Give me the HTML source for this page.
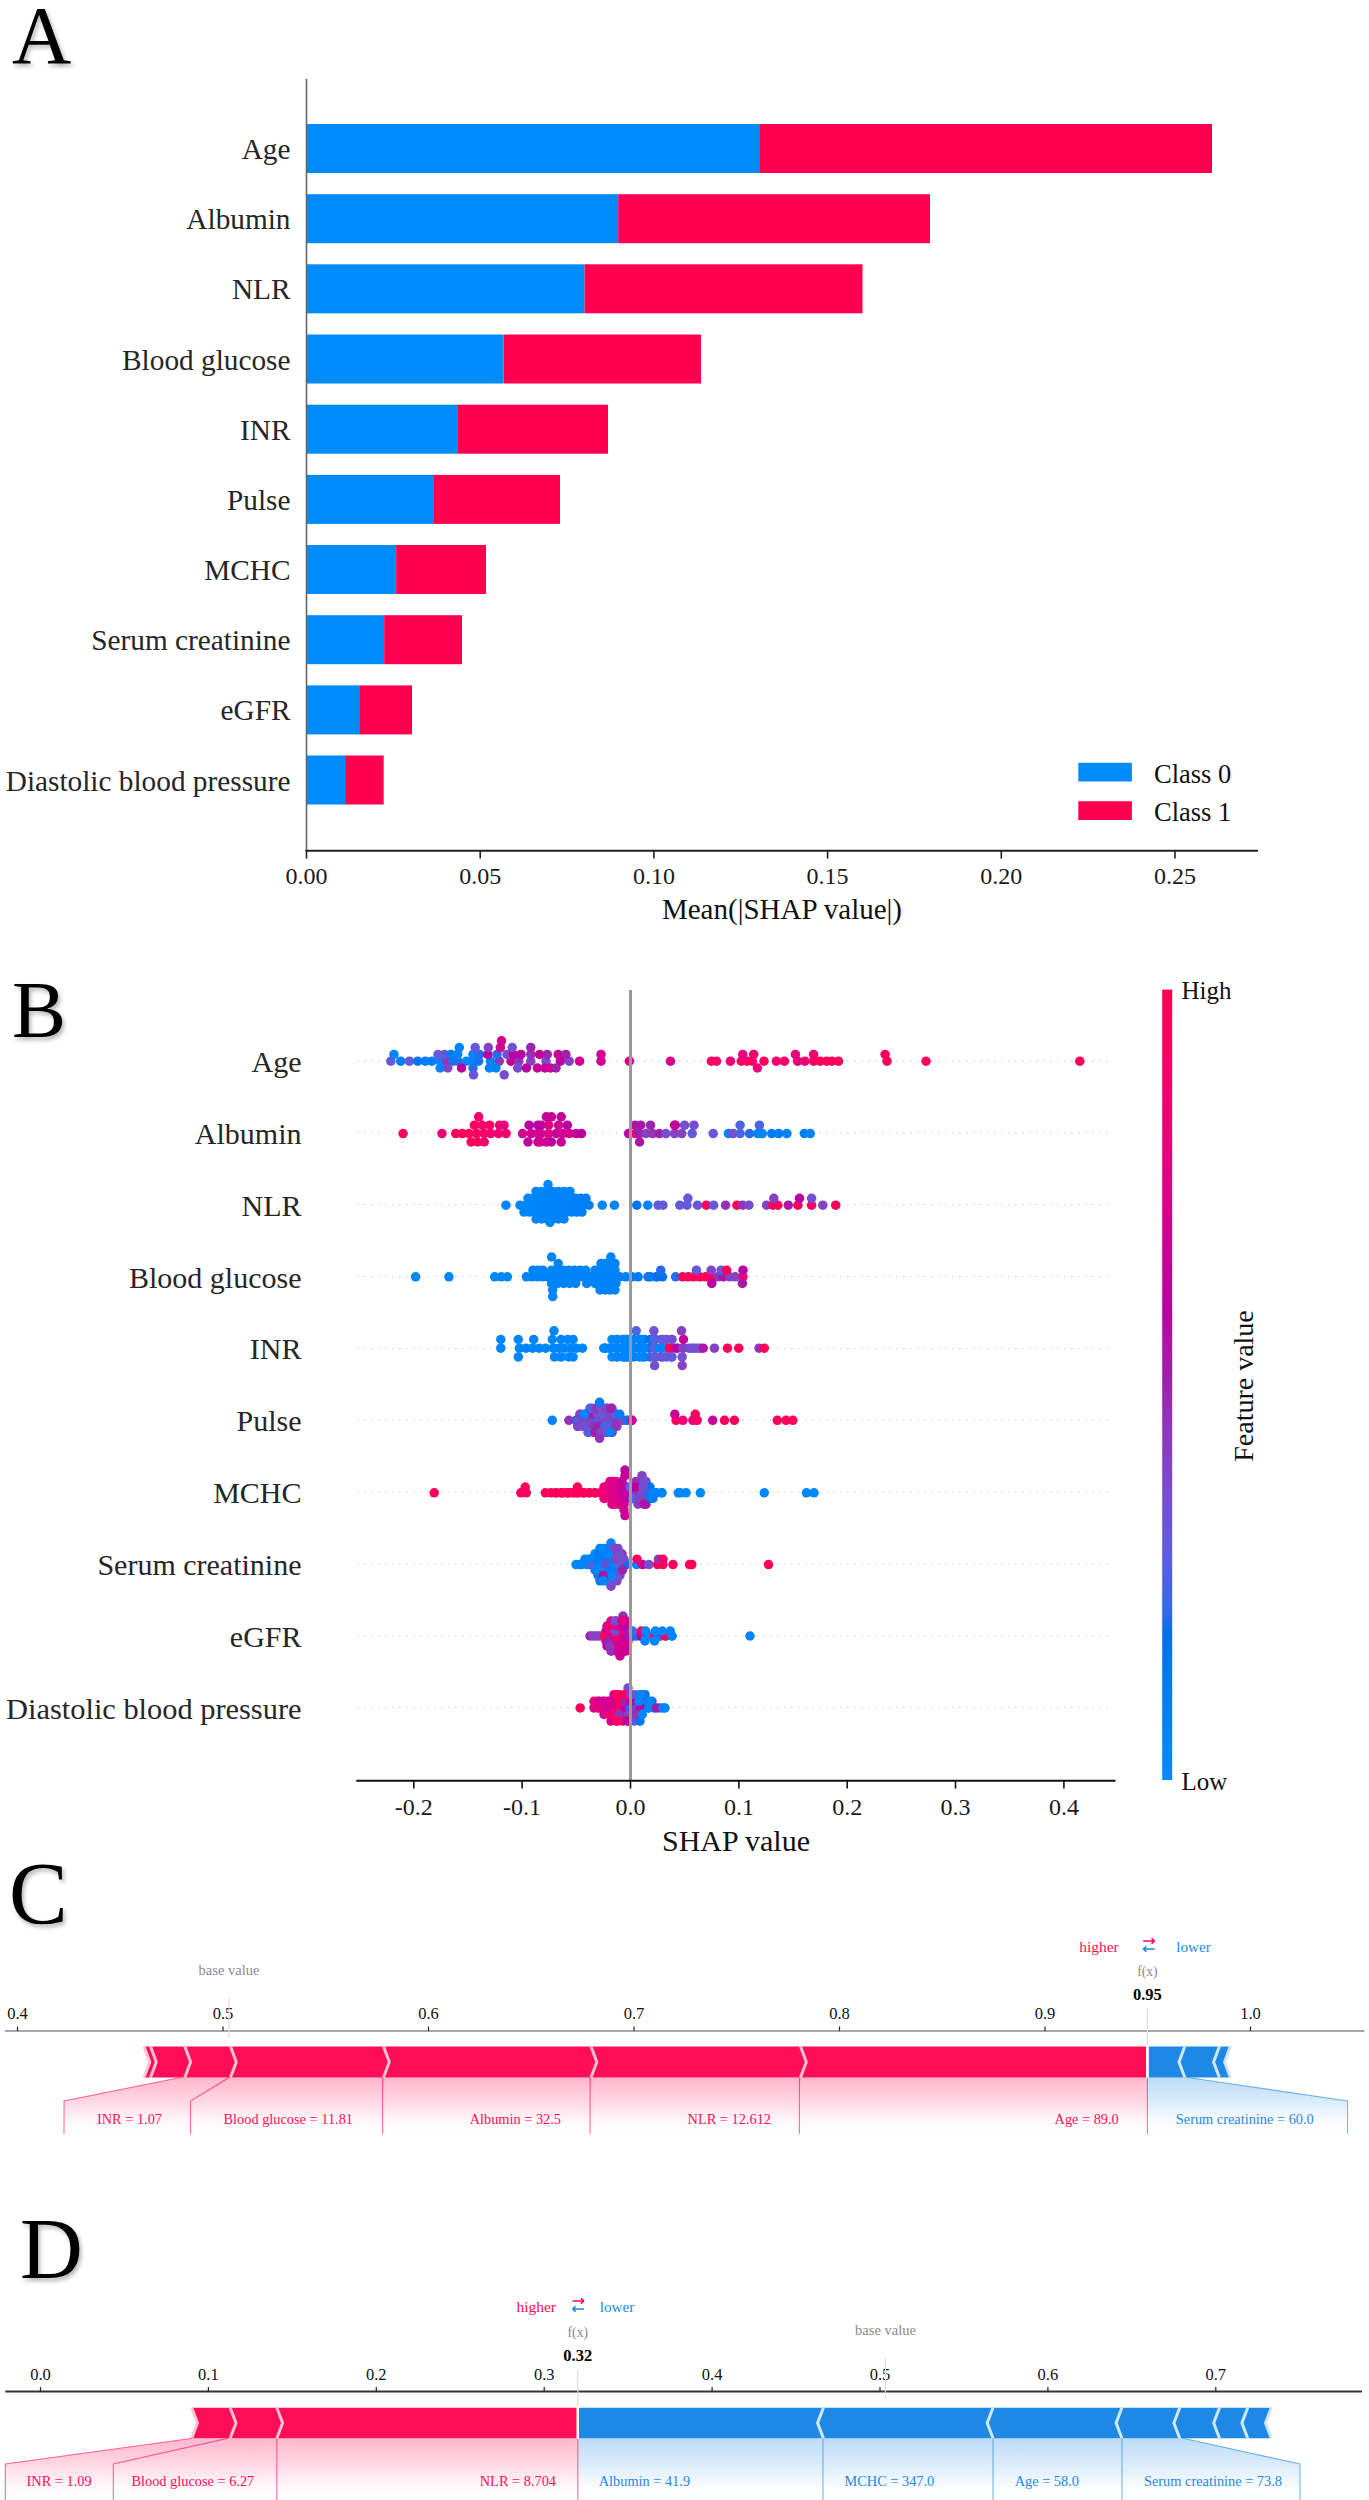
<!DOCTYPE html><html><head><meta charset="utf-8"><style>
html,body{margin:0;padding:0;background:#fff;width:1369px;height:2500px;overflow:hidden}
body{position:relative;font-family:"Liberation Serif",serif}
.pl{position:absolute;font-size:80px;line-height:1;color:#000;text-shadow:2px 3px 4px rgba(0,0,0,0.3)}
svg text{font-family:"Liberation Serif",serif}
</style></head><body>
<svg width="1369" height="2500" viewBox="0 0 1369 2500" style="position:absolute;left:0;top:0">
<defs>
<linearGradient id="cb" x1="0" y1="0" x2="0" y2="1"><stop offset="0.000" stop-color="#ff0051"/><stop offset="0.030" stop-color="#ff0058"/><stop offset="0.061" stop-color="#fd005f"/><stop offset="0.091" stop-color="#fa0065"/><stop offset="0.121" stop-color="#f6006c"/><stop offset="0.152" stop-color="#f10072"/><stop offset="0.182" stop-color="#ec0078"/><stop offset="0.212" stop-color="#e7007e"/><stop offset="0.242" stop-color="#e10084"/><stop offset="0.273" stop-color="#db008a"/><stop offset="0.303" stop-color="#d40090"/><stop offset="0.333" stop-color="#cd0095"/><stop offset="0.364" stop-color="#c5009a"/><stop offset="0.394" stop-color="#bc009f"/><stop offset="0.424" stop-color="#b30aa3"/><stop offset="0.455" stop-color="#aa17a7"/><stop offset="0.485" stop-color="#a01fab"/><stop offset="0.515" stop-color="#9829b1"/><stop offset="0.545" stop-color="#9233b9"/><stop offset="0.576" stop-color="#8a3cc0"/><stop offset="0.606" stop-color="#8244c7"/><stop offset="0.636" stop-color="#794cce"/><stop offset="0.667" stop-color="#6f52d4"/><stop offset="0.697" stop-color="#6459da"/><stop offset="0.727" stop-color="#575fdf"/><stop offset="0.758" stop-color="#4664e4"/><stop offset="0.788" stop-color="#306ae9"/><stop offset="0.818" stop-color="#006fed"/><stop offset="0.848" stop-color="#0074f0"/><stop offset="0.879" stop-color="#0079f3"/><stop offset="0.909" stop-color="#007ef6"/><stop offset="0.939" stop-color="#0082f8"/><stop offset="0.970" stop-color="#0086fa"/><stop offset="1.000" stop-color="#008bfb"/><stop offset="1.000" stop-color="#008bfb"/></linearGradient>
<linearGradient id="gr" x1="0" y1="0" x2="0" y2="1"><stop offset="0" stop-color="#ff0d57" stop-opacity="0.3"/><stop offset="0.4" stop-color="#ff0d57" stop-opacity="0.17"/><stop offset="0.8" stop-color="#ff0d57" stop-opacity="0.02"/><stop offset="1" stop-color="#ff0d57" stop-opacity="0"/></linearGradient>
<linearGradient id="gb" x1="0" y1="0" x2="0" y2="1"><stop offset="0" stop-color="#1e88e5" stop-opacity="0.3"/><stop offset="0.4" stop-color="#1e88e5" stop-opacity="0.17"/><stop offset="0.8" stop-color="#1e88e5" stop-opacity="0.02"/><stop offset="1" stop-color="#1e88e5" stop-opacity="0"/></linearGradient>
</defs>
<rect x="306.5" y="124.0" width="452.8" height="49" fill="#008bfb"/>
<rect x="759.2" y="124.0" width="452.8" height="49" fill="#ff0051"/>
<text x="290.5" y="159.0" font-size="29.3" fill="#262626" text-anchor="end">Age</text>
<rect x="306.5" y="194.2" width="311.8" height="49" fill="#008bfb"/>
<rect x="618.2" y="194.2" width="311.8" height="49" fill="#ff0051"/>
<text x="290.5" y="229.2" font-size="29.3" fill="#262626" text-anchor="end">Albumin</text>
<rect x="306.5" y="264.3" width="278.0" height="49" fill="#008bfb"/>
<rect x="584.5" y="264.3" width="278.0" height="49" fill="#ff0051"/>
<text x="290.5" y="299.3" font-size="29.3" fill="#262626" text-anchor="end">NLR</text>
<rect x="306.5" y="334.5" width="197.2" height="49" fill="#008bfb"/>
<rect x="503.8" y="334.5" width="197.2" height="49" fill="#ff0051"/>
<text x="290.5" y="369.5" font-size="29.3" fill="#262626" text-anchor="end">Blood glucose</text>
<rect x="306.5" y="404.7" width="150.8" height="49" fill="#008bfb"/>
<rect x="457.2" y="404.7" width="150.8" height="49" fill="#ff0051"/>
<text x="290.5" y="439.7" font-size="29.3" fill="#262626" text-anchor="end">INR</text>
<rect x="306.5" y="474.9" width="126.8" height="49" fill="#008bfb"/>
<rect x="433.2" y="474.9" width="126.8" height="49" fill="#ff0051"/>
<text x="290.5" y="509.9" font-size="29.3" fill="#262626" text-anchor="end">Pulse</text>
<rect x="306.5" y="545.0" width="89.8" height="49" fill="#008bfb"/>
<rect x="396.2" y="545.0" width="89.8" height="49" fill="#ff0051"/>
<text x="290.5" y="580.0" font-size="29.3" fill="#262626" text-anchor="end">MCHC</text>
<rect x="306.5" y="615.2" width="77.8" height="49" fill="#008bfb"/>
<rect x="384.2" y="615.2" width="77.8" height="49" fill="#ff0051"/>
<text x="290.5" y="650.2" font-size="29.3" fill="#262626" text-anchor="end">Serum creatinine</text>
<rect x="306.5" y="685.4" width="52.8" height="49" fill="#008bfb"/>
<rect x="359.2" y="685.4" width="52.8" height="49" fill="#ff0051"/>
<text x="290.5" y="720.4" font-size="29.3" fill="#262626" text-anchor="end">eGFR</text>
<rect x="306.5" y="755.5" width="38.6" height="49" fill="#008bfb"/>
<rect x="345.1" y="755.5" width="38.6" height="49" fill="#ff0051"/>
<text x="290.5" y="790.5" font-size="29.3" fill="#262626" text-anchor="end">Diastolic blood pressure</text>
<line x1="306.5" y1="79" x2="306.5" y2="851" stroke="#666" stroke-width="1.6"/>
<line x1="305.5" y1="850.8" x2="1258" y2="850.8" stroke="#222" stroke-width="2"/>
<line x1="306.5" y1="850" x2="306.5" y2="858.6" stroke="#222" stroke-width="1.6"/>
<text x="306.5" y="884.2" font-size="24" fill="#1a1a1a" text-anchor="middle">0.00</text>
<line x1="480.2" y1="850" x2="480.2" y2="858.6" stroke="#222" stroke-width="1.6"/>
<text x="480.2" y="884.2" font-size="24" fill="#1a1a1a" text-anchor="middle">0.05</text>
<line x1="653.9" y1="850" x2="653.9" y2="858.6" stroke="#222" stroke-width="1.6"/>
<text x="653.9" y="884.2" font-size="24" fill="#1a1a1a" text-anchor="middle">0.10</text>
<line x1="827.6" y1="850" x2="827.6" y2="858.6" stroke="#222" stroke-width="1.6"/>
<text x="827.6" y="884.2" font-size="24" fill="#1a1a1a" text-anchor="middle">0.15</text>
<line x1="1001.3" y1="850" x2="1001.3" y2="858.6" stroke="#222" stroke-width="1.6"/>
<text x="1001.3" y="884.2" font-size="24" fill="#1a1a1a" text-anchor="middle">0.20</text>
<line x1="1175.0" y1="850" x2="1175.0" y2="858.6" stroke="#222" stroke-width="1.6"/>
<text x="1175.0" y="884.2" font-size="24" fill="#1a1a1a" text-anchor="middle">0.25</text>
<text x="782" y="919" font-size="29" fill="#111" text-anchor="middle">Mean(|SHAP value|)</text>
<rect x="1078.3" y="762.8" width="53.6" height="18.7" fill="#008bfb"/>
<rect x="1078.3" y="801.2" width="53.6" height="18.8" fill="#ff0051"/>
<text x="1154" y="782.7" font-size="26.5" fill="#111">Class 0</text>
<text x="1154" y="821" font-size="26.5" fill="#111">Class 1</text>
<line x1="357" y1="1061.0" x2="1112" y2="1061.0" stroke="#ccc" stroke-width="1" stroke-dasharray="1.6 5.4"/>
<text x="301.5" y="1072.0" font-size="30" fill="#262626" text-anchor="end">Age</text>
<line x1="357" y1="1132.8" x2="1112" y2="1132.8" stroke="#ccc" stroke-width="1" stroke-dasharray="1.6 5.4"/>
<text x="301.5" y="1143.8" font-size="30" fill="#262626" text-anchor="end">Albumin</text>
<line x1="357" y1="1204.7" x2="1112" y2="1204.7" stroke="#ccc" stroke-width="1" stroke-dasharray="1.6 5.4"/>
<text x="301.5" y="1215.7" font-size="30" fill="#262626" text-anchor="end">NLR</text>
<line x1="357" y1="1276.5" x2="1112" y2="1276.5" stroke="#ccc" stroke-width="1" stroke-dasharray="1.6 5.4"/>
<text x="301.5" y="1287.5" font-size="30" fill="#262626" text-anchor="end">Blood glucose</text>
<line x1="357" y1="1348.4" x2="1112" y2="1348.4" stroke="#ccc" stroke-width="1" stroke-dasharray="1.6 5.4"/>
<text x="301.5" y="1359.4" font-size="30" fill="#262626" text-anchor="end">INR</text>
<line x1="357" y1="1420.2" x2="1112" y2="1420.2" stroke="#ccc" stroke-width="1" stroke-dasharray="1.6 5.4"/>
<text x="301.5" y="1431.2" font-size="30" fill="#262626" text-anchor="end">Pulse</text>
<line x1="357" y1="1492.1" x2="1112" y2="1492.1" stroke="#ccc" stroke-width="1" stroke-dasharray="1.6 5.4"/>
<text x="301.5" y="1503.1" font-size="30" fill="#262626" text-anchor="end">MCHC</text>
<line x1="357" y1="1563.9" x2="1112" y2="1563.9" stroke="#ccc" stroke-width="1" stroke-dasharray="1.6 5.4"/>
<text x="301.5" y="1574.9" font-size="30" fill="#262626" text-anchor="end">Serum creatinine</text>
<line x1="357" y1="1635.8" x2="1112" y2="1635.8" stroke="#ccc" stroke-width="1" stroke-dasharray="1.6 5.4"/>
<text x="301.5" y="1646.8" font-size="30" fill="#262626" text-anchor="end">eGFR</text>
<line x1="357" y1="1707.7" x2="1112" y2="1707.7" stroke="#ccc" stroke-width="1" stroke-dasharray="1.6 5.4"/>
<text x="301.5" y="1718.7" font-size="30.4" fill="#262626" text-anchor="end">Diastolic blood pressure</text>
<circle cx="390.8" cy="1061.2" r="4.75" fill="#6459da"/>
<circle cx="400.7" cy="1061.2" r="4.75" fill="#007cf5"/>
<circle cx="409.4" cy="1061.2" r="4.75" fill="#6459da"/>
<circle cx="417.7" cy="1061.2" r="4.75" fill="#0074f0"/>
<circle cx="425.3" cy="1061.2" r="4.75" fill="#007cf5"/>
<circle cx="431.9" cy="1061.2" r="4.75" fill="#007cf5"/>
<circle cx="440.1" cy="1061.2" r="4.75" fill="#0084f9"/>
<circle cx="446.7" cy="1061.2" r="4.75" fill="#9233b9"/>
<circle cx="453.3" cy="1061.2" r="4.75" fill="#007cf5"/>
<circle cx="457.7" cy="1061.2" r="4.75" fill="#266cea"/>
<circle cx="466.4" cy="1061.2" r="4.75" fill="#0084f9"/>
<circle cx="473.0" cy="1061.2" r="4.75" fill="#0084f9"/>
<circle cx="478.5" cy="1061.2" r="4.75" fill="#007cf5"/>
<circle cx="490.5" cy="1061.2" r="4.75" fill="#0084f9"/>
<circle cx="499.3" cy="1061.2" r="4.75" fill="#9233b9"/>
<circle cx="511.0" cy="1061.2" r="4.75" fill="#c70098"/>
<circle cx="518.8" cy="1061.2" r="4.75" fill="#9233b9"/>
<circle cx="530.8" cy="1061.2" r="4.75" fill="#8542c5"/>
<circle cx="546.0" cy="1061.2" r="4.75" fill="#764ed0"/>
<circle cx="560.4" cy="1061.2" r="4.75" fill="#b900a0"/>
<circle cx="569.2" cy="1061.2" r="4.75" fill="#8542c5"/>
<circle cx="579.6" cy="1061.2" r="4.75" fill="#d40090"/>
<circle cx="601.0" cy="1061.2" r="4.75" fill="#d40090"/>
<circle cx="629.4" cy="1061.2" r="4.75" fill="#df0086"/>
<circle cx="670.5" cy="1061.2" r="4.75" fill="#df0086"/>
<circle cx="711.4" cy="1061.2" r="4.75" fill="#f80067"/>
<circle cx="716.5" cy="1061.2" r="4.75" fill="#f80067"/>
<circle cx="730.4" cy="1061.2" r="4.75" fill="#e9007c"/>
<circle cx="741.3" cy="1061.2" r="4.75" fill="#fe005c"/>
<circle cx="747.2" cy="1061.2" r="4.75" fill="#f80067"/>
<circle cx="752.3" cy="1061.2" r="4.75" fill="#fe005c"/>
<circle cx="764.0" cy="1061.2" r="4.75" fill="#fe005c"/>
<circle cx="776.4" cy="1061.2" r="4.75" fill="#f10072"/>
<circle cx="784.4" cy="1061.2" r="4.75" fill="#f80067"/>
<circle cx="797.6" cy="1061.2" r="4.75" fill="#e9007c"/>
<circle cx="804.9" cy="1061.2" r="4.75" fill="#f10072"/>
<circle cx="813.6" cy="1061.2" r="4.75" fill="#f80067"/>
<circle cx="820.2" cy="1061.2" r="4.75" fill="#fe005c"/>
<circle cx="826.8" cy="1061.2" r="4.75" fill="#fe005c"/>
<circle cx="831.9" cy="1061.2" r="4.75" fill="#fe005c"/>
<circle cx="838.5" cy="1061.2" r="4.75" fill="#fe005c"/>
<circle cx="887.0" cy="1061.2" r="4.75" fill="#fe005c"/>
<circle cx="926.0" cy="1061.2" r="4.75" fill="#fe005c"/>
<circle cx="1079.8" cy="1061.2" r="4.75" fill="#fe005c"/>
<circle cx="394.0" cy="1054.4" r="4.75" fill="#0084f9"/>
<circle cx="438.0" cy="1054.4" r="4.75" fill="#6459da"/>
<circle cx="444.5" cy="1054.4" r="4.75" fill="#6459da"/>
<circle cx="451.0" cy="1054.4" r="4.75" fill="#007cf5"/>
<circle cx="457.7" cy="1054.4" r="4.75" fill="#0084f9"/>
<circle cx="473.0" cy="1054.4" r="4.75" fill="#0084f9"/>
<circle cx="479.6" cy="1054.4" r="4.75" fill="#266cea"/>
<circle cx="487.8" cy="1054.4" r="4.75" fill="#b900a0"/>
<circle cx="497.0" cy="1054.4" r="4.75" fill="#266cea"/>
<circle cx="507.0" cy="1054.4" r="4.75" fill="#764ed0"/>
<circle cx="513.3" cy="1054.4" r="4.75" fill="#b900a0"/>
<circle cx="521.0" cy="1054.4" r="4.75" fill="#b900a0"/>
<circle cx="530.8" cy="1054.4" r="4.75" fill="#9233b9"/>
<circle cx="539.6" cy="1054.4" r="4.75" fill="#c70098"/>
<circle cx="547.3" cy="1054.4" r="4.75" fill="#9d22ac"/>
<circle cx="558.2" cy="1054.4" r="4.75" fill="#c70098"/>
<circle cx="565.9" cy="1054.4" r="4.75" fill="#9d22ac"/>
<circle cx="601.0" cy="1054.4" r="4.75" fill="#d40090"/>
<circle cx="742.8" cy="1054.4" r="4.75" fill="#e9007c"/>
<circle cx="753.7" cy="1054.4" r="4.75" fill="#f10072"/>
<circle cx="795.4" cy="1054.4" r="4.75" fill="#e9007c"/>
<circle cx="813.6" cy="1054.4" r="4.75" fill="#f10072"/>
<circle cx="885.1" cy="1054.4" r="4.75" fill="#fe005c"/>
<circle cx="459.3" cy="1047.6" r="4.75" fill="#0084f9"/>
<circle cx="475.2" cy="1047.6" r="4.75" fill="#6459da"/>
<circle cx="488.3" cy="1047.6" r="4.75" fill="#8542c5"/>
<circle cx="500.4" cy="1047.6" r="4.75" fill="#d40090"/>
<circle cx="512.2" cy="1047.6" r="4.75" fill="#764ed0"/>
<circle cx="530.8" cy="1047.6" r="4.75" fill="#9d22ac"/>
<circle cx="501.5" cy="1040.8" r="4.75" fill="#d40090"/>
<circle cx="440.1" cy="1068.0" r="4.75" fill="#0084f9"/>
<circle cx="447.8" cy="1068.0" r="4.75" fill="#8542c5"/>
<circle cx="461.5" cy="1068.0" r="4.75" fill="#b900a0"/>
<circle cx="473.0" cy="1068.0" r="4.75" fill="#266cea"/>
<circle cx="489.4" cy="1068.0" r="4.75" fill="#0084f9"/>
<circle cx="496.0" cy="1068.0" r="4.75" fill="#0084f9"/>
<circle cx="517.7" cy="1068.0" r="4.75" fill="#764ed0"/>
<circle cx="526.4" cy="1068.0" r="4.75" fill="#b900a0"/>
<circle cx="537.4" cy="1068.0" r="4.75" fill="#c70098"/>
<circle cx="545.0" cy="1068.0" r="4.75" fill="#c70098"/>
<circle cx="550.5" cy="1068.0" r="4.75" fill="#d40090"/>
<circle cx="556.0" cy="1068.0" r="4.75" fill="#9d22ac"/>
<circle cx="757.4" cy="1068.0" r="4.75" fill="#e9007c"/>
<circle cx="473.5" cy="1074.8" r="4.75" fill="#6459da"/>
<circle cx="504.2" cy="1074.8" r="4.75" fill="#764ed0"/>
<circle cx="403.1" cy="1133.6" r="4.75" fill="#fe005c"/>
<circle cx="442.0" cy="1133.6" r="4.75" fill="#f10072"/>
<circle cx="455.7" cy="1133.6" r="4.75" fill="#fe005c"/>
<circle cx="462.3" cy="1133.6" r="4.75" fill="#fe005c"/>
<circle cx="468.9" cy="1133.6" r="4.75" fill="#fe005c"/>
<circle cx="476.6" cy="1133.6" r="4.75" fill="#fe005c"/>
<circle cx="484.2" cy="1133.6" r="4.75" fill="#f80067"/>
<circle cx="490.8" cy="1133.6" r="4.75" fill="#f10072"/>
<circle cx="498.5" cy="1133.6" r="4.75" fill="#f10072"/>
<circle cx="506.1" cy="1133.6" r="4.75" fill="#f10072"/>
<circle cx="522.6" cy="1133.6" r="4.75" fill="#d40090"/>
<circle cx="531.3" cy="1133.6" r="4.75" fill="#d40090"/>
<circle cx="537.9" cy="1133.6" r="4.75" fill="#d40090"/>
<circle cx="541.0" cy="1133.6" r="4.75" fill="#d40090"/>
<circle cx="548.6" cy="1133.6" r="4.75" fill="#df0086"/>
<circle cx="556.3" cy="1133.6" r="4.75" fill="#c70098"/>
<circle cx="562.9" cy="1133.6" r="4.75" fill="#d40090"/>
<circle cx="569.4" cy="1133.6" r="4.75" fill="#d40090"/>
<circle cx="576.0" cy="1133.6" r="4.75" fill="#c70098"/>
<circle cx="581.5" cy="1133.6" r="4.75" fill="#b900a0"/>
<circle cx="628.6" cy="1133.6" r="4.75" fill="#b900a0"/>
<circle cx="635.2" cy="1133.6" r="4.75" fill="#e9007c"/>
<circle cx="639.6" cy="1133.6" r="4.75" fill="#9d22ac"/>
<circle cx="646.1" cy="1133.6" r="4.75" fill="#8542c5"/>
<circle cx="652.7" cy="1133.6" r="4.75" fill="#9233b9"/>
<circle cx="659.3" cy="1133.6" r="4.75" fill="#9d22ac"/>
<circle cx="665.9" cy="1133.6" r="4.75" fill="#764ed0"/>
<circle cx="674.6" cy="1133.6" r="4.75" fill="#8542c5"/>
<circle cx="681.7" cy="1133.6" r="4.75" fill="#8542c5"/>
<circle cx="692.2" cy="1133.6" r="4.75" fill="#6459da"/>
<circle cx="713.2" cy="1133.6" r="4.75" fill="#6459da"/>
<circle cx="728.4" cy="1133.6" r="4.75" fill="#0084f9"/>
<circle cx="733.1" cy="1133.6" r="4.75" fill="#764ed0"/>
<circle cx="740.1" cy="1133.6" r="4.75" fill="#4c63e3"/>
<circle cx="749.5" cy="1133.6" r="4.75" fill="#266cea"/>
<circle cx="757.7" cy="1133.6" r="4.75" fill="#0084f9"/>
<circle cx="762.3" cy="1133.6" r="4.75" fill="#0084f9"/>
<circle cx="771.7" cy="1133.6" r="4.75" fill="#007cf5"/>
<circle cx="778.7" cy="1133.6" r="4.75" fill="#007cf5"/>
<circle cx="786.9" cy="1133.6" r="4.75" fill="#0084f9"/>
<circle cx="804.4" cy="1133.6" r="4.75" fill="#007cf5"/>
<circle cx="810.3" cy="1133.6" r="4.75" fill="#0084f9"/>
<circle cx="474.4" cy="1125.2" r="4.75" fill="#fe005c"/>
<circle cx="482.0" cy="1125.2" r="4.75" fill="#f80067"/>
<circle cx="489.7" cy="1125.2" r="4.75" fill="#fe005c"/>
<circle cx="499.6" cy="1125.2" r="4.75" fill="#f10072"/>
<circle cx="504.0" cy="1125.2" r="4.75" fill="#e9007c"/>
<circle cx="529.1" cy="1125.2" r="4.75" fill="#b900a0"/>
<circle cx="537.9" cy="1125.2" r="4.75" fill="#b900a0"/>
<circle cx="541.0" cy="1125.2" r="4.75" fill="#b900a0"/>
<circle cx="548.6" cy="1125.2" r="4.75" fill="#df0086"/>
<circle cx="558.5" cy="1125.2" r="4.75" fill="#d40090"/>
<circle cx="567.3" cy="1125.2" r="4.75" fill="#b900a0"/>
<circle cx="635.2" cy="1125.2" r="4.75" fill="#aa17a7"/>
<circle cx="640.7" cy="1125.2" r="4.75" fill="#aa17a7"/>
<circle cx="650.5" cy="1125.2" r="4.75" fill="#9d22ac"/>
<circle cx="674.6" cy="1125.2" r="4.75" fill="#b900a0"/>
<circle cx="675.3" cy="1125.2" r="4.75" fill="#c70098"/>
<circle cx="684.6" cy="1125.2" r="4.75" fill="#764ed0"/>
<circle cx="694.0" cy="1125.2" r="4.75" fill="#764ed0"/>
<circle cx="740.1" cy="1125.2" r="4.75" fill="#4c63e3"/>
<circle cx="759.4" cy="1125.2" r="4.75" fill="#4c63e3"/>
<circle cx="478.7" cy="1116.8" r="4.75" fill="#f80067"/>
<circle cx="546.4" cy="1116.8" r="4.75" fill="#c70098"/>
<circle cx="551.4" cy="1116.8" r="4.75" fill="#c70098"/>
<circle cx="561.2" cy="1116.8" r="4.75" fill="#c70098"/>
<circle cx="471.1" cy="1142.0" r="4.75" fill="#fe005c"/>
<circle cx="477.7" cy="1142.0" r="4.75" fill="#fe005c"/>
<circle cx="484.2" cy="1142.0" r="4.75" fill="#f80067"/>
<circle cx="528.0" cy="1142.0" r="4.75" fill="#b900a0"/>
<circle cx="537.9" cy="1142.0" r="4.75" fill="#c70098"/>
<circle cx="539.9" cy="1142.0" r="4.75" fill="#d40090"/>
<circle cx="546.4" cy="1142.0" r="4.75" fill="#d40090"/>
<circle cx="551.4" cy="1142.0" r="4.75" fill="#b900a0"/>
<circle cx="561.2" cy="1142.0" r="4.75" fill="#c70098"/>
<circle cx="639.6" cy="1142.0" r="4.75" fill="#aa17a7"/>
<circle cx="505.9" cy="1205.2" r="4.75" fill="#0086fa"/>
<circle cx="520.0" cy="1205.2" r="4.75" fill="#0086fa"/>
<circle cx="525.3" cy="1205.2" r="4.75" fill="#0086fa"/>
<circle cx="530.6" cy="1205.2" r="4.75" fill="#0085f9"/>
<circle cx="535.9" cy="1205.2" r="4.75" fill="#0085f9"/>
<circle cx="541.2" cy="1205.2" r="4.75" fill="#0085f9"/>
<circle cx="546.5" cy="1205.2" r="4.75" fill="#0084f9"/>
<circle cx="551.8" cy="1205.2" r="4.75" fill="#0084f9"/>
<circle cx="557.2" cy="1205.2" r="4.75" fill="#0082f8"/>
<circle cx="562.5" cy="1205.2" r="4.75" fill="#0082f8"/>
<circle cx="567.8" cy="1205.2" r="4.75" fill="#0082f8"/>
<circle cx="573.1" cy="1205.2" r="4.75" fill="#0081f7"/>
<circle cx="578.4" cy="1205.2" r="4.75" fill="#0081f7"/>
<circle cx="583.7" cy="1205.2" r="4.75" fill="#007ff7"/>
<circle cx="589.0" cy="1205.2" r="4.75" fill="#007ff7"/>
<circle cx="528.0" cy="1198.3" r="4.75" fill="#0086fa"/>
<circle cx="533.3" cy="1198.3" r="4.75" fill="#0086fa"/>
<circle cx="538.5" cy="1198.3" r="4.75" fill="#0085f9"/>
<circle cx="543.8" cy="1198.3" r="4.75" fill="#0085f9"/>
<circle cx="549.1" cy="1198.3" r="4.75" fill="#0084f9"/>
<circle cx="554.4" cy="1198.3" r="4.75" fill="#0084f9"/>
<circle cx="559.6" cy="1198.3" r="4.75" fill="#0082f8"/>
<circle cx="564.9" cy="1198.3" r="4.75" fill="#0082f8"/>
<circle cx="570.2" cy="1198.3" r="4.75" fill="#0081f7"/>
<circle cx="575.5" cy="1198.3" r="4.75" fill="#0081f7"/>
<circle cx="580.7" cy="1198.3" r="4.75" fill="#0081f7"/>
<circle cx="586.0" cy="1198.3" r="4.75" fill="#007ff7"/>
<circle cx="536.0" cy="1191.4" r="4.75" fill="#0086fa"/>
<circle cx="541.7" cy="1191.4" r="4.75" fill="#0086fa"/>
<circle cx="547.3" cy="1191.4" r="4.75" fill="#0085f9"/>
<circle cx="553.0" cy="1191.4" r="4.75" fill="#0085f9"/>
<circle cx="558.7" cy="1191.4" r="4.75" fill="#0085f9"/>
<circle cx="564.3" cy="1191.4" r="4.75" fill="#0084f9"/>
<circle cx="570.0" cy="1191.4" r="4.75" fill="#0084f9"/>
<circle cx="548.0" cy="1184.5" r="4.75" fill="#0086fa"/>
<circle cx="524.0" cy="1212.1" r="4.75" fill="#0086fa"/>
<circle cx="529.3" cy="1212.1" r="4.75" fill="#0086fa"/>
<circle cx="534.5" cy="1212.1" r="4.75" fill="#0085f9"/>
<circle cx="539.8" cy="1212.1" r="4.75" fill="#0085f9"/>
<circle cx="545.1" cy="1212.1" r="4.75" fill="#0084f9"/>
<circle cx="550.4" cy="1212.1" r="4.75" fill="#0084f9"/>
<circle cx="555.6" cy="1212.1" r="4.75" fill="#0082f8"/>
<circle cx="560.9" cy="1212.1" r="4.75" fill="#0082f8"/>
<circle cx="566.2" cy="1212.1" r="4.75" fill="#0081f7"/>
<circle cx="571.5" cy="1212.1" r="4.75" fill="#0081f7"/>
<circle cx="576.7" cy="1212.1" r="4.75" fill="#0081f7"/>
<circle cx="582.0" cy="1212.1" r="4.75" fill="#007ff7"/>
<circle cx="536.0" cy="1219.0" r="4.75" fill="#0086fa"/>
<circle cx="541.6" cy="1219.0" r="4.75" fill="#0086fa"/>
<circle cx="547.2" cy="1219.0" r="4.75" fill="#0085f9"/>
<circle cx="552.8" cy="1219.0" r="4.75" fill="#0085f9"/>
<circle cx="558.4" cy="1219.0" r="4.75" fill="#0084f9"/>
<circle cx="564.0" cy="1219.0" r="4.75" fill="#0084f9"/>
<circle cx="550.0" cy="1222.5" r="4.75" fill="#0086fa"/>
<circle cx="602.3" cy="1205.2" r="4.75" fill="#0084f9"/>
<circle cx="614.4" cy="1205.2" r="4.75" fill="#0084f9"/>
<circle cx="636.8" cy="1205.2" r="4.75" fill="#0074f0"/>
<circle cx="647.7" cy="1205.2" r="4.75" fill="#0084f9"/>
<circle cx="658.1" cy="1205.2" r="4.75" fill="#6459da"/>
<circle cx="662.9" cy="1205.2" r="4.75" fill="#6459da"/>
<circle cx="679.8" cy="1205.2" r="4.75" fill="#6459da"/>
<circle cx="687.0" cy="1205.2" r="4.75" fill="#6459da"/>
<circle cx="697.5" cy="1205.2" r="4.75" fill="#6459da"/>
<circle cx="706.3" cy="1205.2" r="4.75" fill="#fe005c"/>
<circle cx="713.6" cy="1205.2" r="4.75" fill="#6459da"/>
<circle cx="725.6" cy="1205.2" r="4.75" fill="#9233b9"/>
<circle cx="736.9" cy="1205.2" r="4.75" fill="#fe005c"/>
<circle cx="742.5" cy="1205.2" r="4.75" fill="#9233b9"/>
<circle cx="748.9" cy="1205.2" r="4.75" fill="#764ed0"/>
<circle cx="766.6" cy="1205.2" r="4.75" fill="#8542c5"/>
<circle cx="773.0" cy="1205.2" r="4.75" fill="#fe005c"/>
<circle cx="777.8" cy="1205.2" r="4.75" fill="#fe005c"/>
<circle cx="788.3" cy="1205.2" r="4.75" fill="#aa17a7"/>
<circle cx="797.9" cy="1205.2" r="4.75" fill="#fe005c"/>
<circle cx="811.6" cy="1205.2" r="4.75" fill="#f80067"/>
<circle cx="822.8" cy="1205.2" r="4.75" fill="#8542c5"/>
<circle cx="835.7" cy="1205.2" r="4.75" fill="#fe005c"/>
<circle cx="687.9" cy="1198.3" r="4.75" fill="#6459da"/>
<circle cx="773.8" cy="1198.3" r="4.75" fill="#8542c5"/>
<circle cx="799.5" cy="1198.3" r="4.75" fill="#b900a0"/>
<circle cx="811.6" cy="1198.3" r="4.75" fill="#764ed0"/>
<circle cx="415.6" cy="1276.8" r="4.75" fill="#0088fa"/>
<circle cx="448.9" cy="1276.8" r="4.75" fill="#0088fa"/>
<circle cx="494.7" cy="1276.8" r="4.75" fill="#0088fa"/>
<circle cx="501.2" cy="1276.8" r="4.75" fill="#0088fa"/>
<circle cx="507.4" cy="1276.8" r="4.75" fill="#0088fa"/>
<circle cx="526.4" cy="1276.8" r="4.75" fill="#0085f9"/>
<circle cx="531.8" cy="1276.8" r="4.75" fill="#0085f9"/>
<circle cx="537.2" cy="1276.8" r="4.75" fill="#0085f9"/>
<circle cx="542.5" cy="1276.8" r="4.75" fill="#0085f9"/>
<circle cx="547.9" cy="1276.8" r="4.75" fill="#0084f9"/>
<circle cx="553.3" cy="1276.8" r="4.75" fill="#0084f9"/>
<circle cx="558.7" cy="1276.8" r="4.75" fill="#0084f9"/>
<circle cx="564.1" cy="1276.8" r="4.75" fill="#0084f9"/>
<circle cx="569.5" cy="1276.8" r="4.75" fill="#0084f9"/>
<circle cx="574.9" cy="1276.8" r="4.75" fill="#0084f9"/>
<circle cx="580.2" cy="1276.8" r="4.75" fill="#0082f8"/>
<circle cx="585.6" cy="1276.8" r="4.75" fill="#0082f8"/>
<circle cx="591.0" cy="1276.8" r="4.75" fill="#0082f8"/>
<circle cx="533.0" cy="1270.2" r="4.75" fill="#0085f9"/>
<circle cx="538.0" cy="1270.2" r="4.75" fill="#0085f9"/>
<circle cx="543.0" cy="1270.2" r="4.75" fill="#0084f9"/>
<circle cx="551.6" cy="1270.2" r="4.75" fill="#0085f9"/>
<circle cx="557.3" cy="1270.2" r="4.75" fill="#0085f9"/>
<circle cx="563.0" cy="1270.2" r="4.75" fill="#0084f9"/>
<circle cx="568.6" cy="1270.2" r="4.75" fill="#0084f9"/>
<circle cx="574.3" cy="1270.2" r="4.75" fill="#0082f8"/>
<circle cx="580.0" cy="1270.2" r="4.75" fill="#0082f8"/>
<circle cx="585.6" cy="1270.2" r="4.75" fill="#0084f9"/>
<circle cx="558.2" cy="1263.6" r="4.75" fill="#0084f9"/>
<circle cx="551.6" cy="1257.0" r="4.75" fill="#0084f9"/>
<circle cx="551.6" cy="1283.4" r="4.75" fill="#0085f9"/>
<circle cx="557.6" cy="1283.4" r="4.75" fill="#0085f9"/>
<circle cx="563.7" cy="1283.4" r="4.75" fill="#0084f9"/>
<circle cx="569.7" cy="1283.4" r="4.75" fill="#0084f9"/>
<circle cx="575.7" cy="1283.4" r="4.75" fill="#0082f8"/>
<circle cx="586.7" cy="1283.4" r="4.75" fill="#0084f9"/>
<circle cx="552.7" cy="1290.0" r="4.75" fill="#0084f9"/>
<circle cx="552.7" cy="1296.6" r="4.75" fill="#0084f9"/>
<circle cx="593.3" cy="1276.8" r="4.75" fill="#0084f9"/>
<circle cx="599.0" cy="1276.8" r="4.75" fill="#0084f9"/>
<circle cx="604.8" cy="1276.8" r="4.75" fill="#0084f9"/>
<circle cx="610.5" cy="1276.8" r="4.75" fill="#0082f8"/>
<circle cx="616.3" cy="1276.8" r="4.75" fill="#0082f8"/>
<circle cx="619.6" cy="1276.8" r="4.75" fill="#007ff7"/>
<circle cx="625.8" cy="1276.8" r="4.75" fill="#007ef6"/>
<circle cx="632.0" cy="1276.8" r="4.75" fill="#007bf4"/>
<circle cx="638.2" cy="1276.8" r="4.75" fill="#0079f3"/>
<circle cx="595.0" cy="1270.2" r="4.75" fill="#0084f9"/>
<circle cx="600.0" cy="1270.2" r="4.75" fill="#0084f9"/>
<circle cx="605.0" cy="1270.2" r="4.75" fill="#0084f9"/>
<circle cx="610.0" cy="1270.2" r="4.75" fill="#0082f8"/>
<circle cx="615.0" cy="1270.2" r="4.75" fill="#0082f8"/>
<circle cx="601.0" cy="1263.6" r="4.75" fill="#0084f9"/>
<circle cx="605.7" cy="1263.6" r="4.75" fill="#0084f9"/>
<circle cx="610.3" cy="1263.6" r="4.75" fill="#0082f8"/>
<circle cx="615.0" cy="1263.6" r="4.75" fill="#0082f8"/>
<circle cx="610.8" cy="1257.0" r="4.75" fill="#0084f9"/>
<circle cx="595.0" cy="1283.4" r="4.75" fill="#0084f9"/>
<circle cx="600.2" cy="1283.4" r="4.75" fill="#0084f9"/>
<circle cx="605.5" cy="1283.4" r="4.75" fill="#0084f9"/>
<circle cx="610.8" cy="1283.4" r="4.75" fill="#0082f8"/>
<circle cx="616.0" cy="1283.4" r="4.75" fill="#0082f8"/>
<circle cx="600.0" cy="1290.0" r="4.75" fill="#0084f9"/>
<circle cx="605.0" cy="1290.0" r="4.75" fill="#0084f9"/>
<circle cx="610.0" cy="1290.0" r="4.75" fill="#0082f8"/>
<circle cx="615.0" cy="1290.0" r="4.75" fill="#0082f8"/>
<circle cx="648.0" cy="1276.8" r="4.75" fill="#266cea"/>
<circle cx="656.8" cy="1276.8" r="4.75" fill="#266cea"/>
<circle cx="650.4" cy="1276.8" r="4.75" fill="#007cf5"/>
<circle cx="656.4" cy="1276.8" r="4.75" fill="#0074f0"/>
<circle cx="662.5" cy="1276.8" r="4.75" fill="#0074f0"/>
<circle cx="675.6" cy="1276.8" r="4.75" fill="#266cea"/>
<circle cx="682.7" cy="1276.8" r="4.75" fill="#fe005c"/>
<circle cx="688.2" cy="1276.8" r="4.75" fill="#fe005c"/>
<circle cx="693.7" cy="1276.8" r="4.75" fill="#fe005c"/>
<circle cx="699.7" cy="1276.8" r="4.75" fill="#fe005c"/>
<circle cx="705.7" cy="1276.8" r="4.75" fill="#fe005c"/>
<circle cx="711.2" cy="1276.8" r="4.75" fill="#fe005c"/>
<circle cx="717.8" cy="1276.8" r="4.75" fill="#9233b9"/>
<circle cx="723.3" cy="1276.8" r="4.75" fill="#aa17a7"/>
<circle cx="729.8" cy="1276.8" r="4.75" fill="#8542c5"/>
<circle cx="735.3" cy="1276.8" r="4.75" fill="#8542c5"/>
<circle cx="743.0" cy="1276.8" r="4.75" fill="#f10072"/>
<circle cx="660.8" cy="1270.2" r="4.75" fill="#266cea"/>
<circle cx="696.4" cy="1270.2" r="4.75" fill="#6459da"/>
<circle cx="711.2" cy="1270.2" r="4.75" fill="#8542c5"/>
<circle cx="721.1" cy="1270.2" r="4.75" fill="#6459da"/>
<circle cx="726.6" cy="1270.2" r="4.75" fill="#fe005c"/>
<circle cx="743.0" cy="1270.2" r="4.75" fill="#b900a0"/>
<circle cx="711.8" cy="1283.4" r="4.75" fill="#b900a0"/>
<circle cx="742.4" cy="1283.4" r="4.75" fill="#aa17a7"/>
<circle cx="605.0" cy="1348.2" r="4.75" fill="#0081f7"/>
<circle cx="610.6" cy="1348.2" r="4.75" fill="#008bfb"/>
<circle cx="616.2" cy="1348.2" r="4.75" fill="#007ef6"/>
<circle cx="621.8" cy="1348.2" r="4.75" fill="#0084f9"/>
<circle cx="627.4" cy="1348.2" r="4.75" fill="#0082f8"/>
<circle cx="632.9" cy="1348.2" r="4.75" fill="#0084f9"/>
<circle cx="638.5" cy="1348.2" r="4.75" fill="#007cf5"/>
<circle cx="644.1" cy="1348.2" r="4.75" fill="#0084f9"/>
<circle cx="649.7" cy="1348.2" r="4.75" fill="#186deb"/>
<circle cx="655.3" cy="1348.2" r="4.75" fill="#6459da"/>
<circle cx="660.9" cy="1348.2" r="4.75" fill="#575fdf"/>
<circle cx="666.5" cy="1348.2" r="4.75" fill="#6459da"/>
<circle cx="672.1" cy="1348.2" r="4.75" fill="#7d49cc"/>
<circle cx="677.6" cy="1348.2" r="4.75" fill="#7f47c9"/>
<circle cx="683.2" cy="1348.2" r="4.75" fill="#8244c7"/>
<circle cx="688.8" cy="1348.2" r="4.75" fill="#6f52d4"/>
<circle cx="694.4" cy="1348.2" r="4.75" fill="#7350d2"/>
<circle cx="700.0" cy="1348.2" r="4.75" fill="#8244c7"/>
<circle cx="612.0" cy="1339.5" r="4.75" fill="#008bfb"/>
<circle cx="617.5" cy="1339.5" r="4.75" fill="#0081f7"/>
<circle cx="622.9" cy="1339.5" r="4.75" fill="#0084f9"/>
<circle cx="628.4" cy="1339.5" r="4.75" fill="#0082f8"/>
<circle cx="633.8" cy="1339.5" r="4.75" fill="#0086fa"/>
<circle cx="639.3" cy="1339.5" r="4.75" fill="#0086fa"/>
<circle cx="644.7" cy="1339.5" r="4.75" fill="#0081f7"/>
<circle cx="650.2" cy="1339.5" r="4.75" fill="#006fed"/>
<circle cx="655.6" cy="1339.5" r="4.75" fill="#5b5ddd"/>
<circle cx="661.1" cy="1339.5" r="4.75" fill="#605bdc"/>
<circle cx="666.5" cy="1339.5" r="4.75" fill="#7d49cc"/>
<circle cx="672.0" cy="1339.5" r="4.75" fill="#6f52d4"/>
<circle cx="612.0" cy="1356.9" r="4.75" fill="#008bfb"/>
<circle cx="617.5" cy="1356.9" r="4.75" fill="#008bfb"/>
<circle cx="622.9" cy="1356.9" r="4.75" fill="#0081f7"/>
<circle cx="628.4" cy="1356.9" r="4.75" fill="#007ef6"/>
<circle cx="633.8" cy="1356.9" r="4.75" fill="#0081f7"/>
<circle cx="639.3" cy="1356.9" r="4.75" fill="#0086fa"/>
<circle cx="644.7" cy="1356.9" r="4.75" fill="#0081f7"/>
<circle cx="650.2" cy="1356.9" r="4.75" fill="#306ae9"/>
<circle cx="655.6" cy="1356.9" r="4.75" fill="#6459da"/>
<circle cx="661.1" cy="1356.9" r="4.75" fill="#6c54d6"/>
<circle cx="666.5" cy="1356.9" r="4.75" fill="#5b5ddd"/>
<circle cx="672.0" cy="1356.9" r="4.75" fill="#7d49cc"/>
<circle cx="500.8" cy="1348.2" r="4.75" fill="#0086fa"/>
<circle cx="519.4" cy="1348.2" r="4.75" fill="#0086fa"/>
<circle cx="526.0" cy="1348.2" r="4.75" fill="#0086fa"/>
<circle cx="532.6" cy="1348.2" r="4.75" fill="#0086fa"/>
<circle cx="539.2" cy="1348.2" r="4.75" fill="#0086fa"/>
<circle cx="545.7" cy="1348.2" r="4.75" fill="#0086fa"/>
<circle cx="553.4" cy="1348.2" r="4.75" fill="#0086fa"/>
<circle cx="558.9" cy="1348.2" r="4.75" fill="#0086fa"/>
<circle cx="564.4" cy="1348.2" r="4.75" fill="#0086fa"/>
<circle cx="570.9" cy="1348.2" r="4.75" fill="#0086fa"/>
<circle cx="576.4" cy="1348.2" r="4.75" fill="#0086fa"/>
<circle cx="582.4" cy="1348.2" r="4.75" fill="#0086fa"/>
<circle cx="603.8" cy="1348.2" r="4.75" fill="#0086fa"/>
<circle cx="609.3" cy="1348.2" r="4.75" fill="#0086fa"/>
<circle cx="617.0" cy="1348.2" r="4.75" fill="#0086fa"/>
<circle cx="624.6" cy="1348.2" r="4.75" fill="#0086fa"/>
<circle cx="605.3" cy="1348.2" r="4.75" fill="#0086fa"/>
<circle cx="617.1" cy="1348.2" r="4.75" fill="#0086fa"/>
<circle cx="626.3" cy="1348.2" r="4.75" fill="#0086fa"/>
<circle cx="634.2" cy="1348.2" r="4.75" fill="#0086fa"/>
<circle cx="643.4" cy="1348.2" r="4.75" fill="#0086fa"/>
<circle cx="500.8" cy="1339.5" r="4.75" fill="#0086fa"/>
<circle cx="518.3" cy="1339.5" r="4.75" fill="#0086fa"/>
<circle cx="533.7" cy="1339.5" r="4.75" fill="#0086fa"/>
<circle cx="552.3" cy="1339.5" r="4.75" fill="#0086fa"/>
<circle cx="561.1" cy="1339.5" r="4.75" fill="#0086fa"/>
<circle cx="567.7" cy="1339.5" r="4.75" fill="#0086fa"/>
<circle cx="573.1" cy="1339.5" r="4.75" fill="#0086fa"/>
<circle cx="617.0" cy="1339.5" r="4.75" fill="#0086fa"/>
<circle cx="624.6" cy="1339.5" r="4.75" fill="#0086fa"/>
<circle cx="626.3" cy="1339.5" r="4.75" fill="#0086fa"/>
<circle cx="640.8" cy="1339.5" r="4.75" fill="#0086fa"/>
<circle cx="554.0" cy="1330.8" r="4.75" fill="#0086fa"/>
<circle cx="518.3" cy="1356.9" r="4.75" fill="#0086fa"/>
<circle cx="554.5" cy="1356.9" r="4.75" fill="#0086fa"/>
<circle cx="561.1" cy="1356.9" r="4.75" fill="#0086fa"/>
<circle cx="568.7" cy="1356.9" r="4.75" fill="#0086fa"/>
<circle cx="573.1" cy="1356.9" r="4.75" fill="#0086fa"/>
<circle cx="617.0" cy="1356.9" r="4.75" fill="#0086fa"/>
<circle cx="624.6" cy="1356.9" r="4.75" fill="#0086fa"/>
<circle cx="626.3" cy="1356.9" r="4.75" fill="#0086fa"/>
<circle cx="642.1" cy="1356.9" r="4.75" fill="#0086fa"/>
<circle cx="653.9" cy="1348.2" r="4.75" fill="#4c63e3"/>
<circle cx="660.5" cy="1348.2" r="4.75" fill="#0084f9"/>
<circle cx="669.7" cy="1348.2" r="4.75" fill="#fe005c"/>
<circle cx="676.3" cy="1348.2" r="4.75" fill="#b900a0"/>
<circle cx="682.8" cy="1348.2" r="4.75" fill="#8542c5"/>
<circle cx="692.0" cy="1348.2" r="4.75" fill="#764ed0"/>
<circle cx="697.3" cy="1348.2" r="4.75" fill="#764ed0"/>
<circle cx="703.2" cy="1348.2" r="4.75" fill="#aa17a7"/>
<circle cx="714.4" cy="1348.2" r="4.75" fill="#8542c5"/>
<circle cx="727.5" cy="1348.2" r="4.75" fill="#fe005c"/>
<circle cx="738.7" cy="1348.2" r="4.75" fill="#fe005c"/>
<circle cx="759.1" cy="1348.2" r="4.75" fill="#9233b9"/>
<circle cx="764.3" cy="1348.2" r="4.75" fill="#fe005c"/>
<circle cx="653.9" cy="1339.5" r="4.75" fill="#4c63e3"/>
<circle cx="663.1" cy="1339.5" r="4.75" fill="#6459da"/>
<circle cx="671.7" cy="1339.5" r="4.75" fill="#764ed0"/>
<circle cx="683.5" cy="1339.5" r="4.75" fill="#c70098"/>
<circle cx="636.2" cy="1330.8" r="4.75" fill="#4c63e3"/>
<circle cx="653.9" cy="1330.8" r="4.75" fill="#764ed0"/>
<circle cx="681.5" cy="1330.8" r="4.75" fill="#8542c5"/>
<circle cx="655.2" cy="1356.9" r="4.75" fill="#6459da"/>
<circle cx="663.1" cy="1356.9" r="4.75" fill="#6459da"/>
<circle cx="671.0" cy="1356.9" r="4.75" fill="#6459da"/>
<circle cx="682.2" cy="1356.9" r="4.75" fill="#764ed0"/>
<circle cx="654.6" cy="1365.6" r="4.75" fill="#764ed0"/>
<circle cx="682.2" cy="1365.6" r="4.75" fill="#8542c5"/>
<circle cx="576.0" cy="1420.3" r="4.75" fill="#0074f0"/>
<circle cx="581.6" cy="1420.3" r="4.75" fill="#0074f0"/>
<circle cx="587.2" cy="1420.3" r="4.75" fill="#764ed0"/>
<circle cx="592.8" cy="1420.3" r="4.75" fill="#764ed0"/>
<circle cx="598.4" cy="1420.3" r="4.75" fill="#6459da"/>
<circle cx="604.0" cy="1420.3" r="4.75" fill="#9233b9"/>
<circle cx="609.6" cy="1420.3" r="4.75" fill="#4c63e3"/>
<circle cx="615.2" cy="1420.3" r="4.75" fill="#0074f0"/>
<circle cx="620.8" cy="1420.3" r="4.75" fill="#764ed0"/>
<circle cx="626.4" cy="1420.3" r="4.75" fill="#6459da"/>
<circle cx="632.0" cy="1420.3" r="4.75" fill="#9233b9"/>
<circle cx="580.0" cy="1414.3" r="4.75" fill="#764ed0"/>
<circle cx="585.3" cy="1414.3" r="4.75" fill="#6459da"/>
<circle cx="590.6" cy="1414.3" r="4.75" fill="#0074f0"/>
<circle cx="595.9" cy="1414.3" r="4.75" fill="#0084f9"/>
<circle cx="601.1" cy="1414.3" r="4.75" fill="#9d22ac"/>
<circle cx="606.4" cy="1414.3" r="4.75" fill="#6459da"/>
<circle cx="611.7" cy="1414.3" r="4.75" fill="#764ed0"/>
<circle cx="617.0" cy="1414.3" r="4.75" fill="#4c63e3"/>
<circle cx="590.0" cy="1408.3" r="4.75" fill="#764ed0"/>
<circle cx="595.5" cy="1408.3" r="4.75" fill="#764ed0"/>
<circle cx="601.0" cy="1408.3" r="4.75" fill="#0074f0"/>
<circle cx="606.5" cy="1408.3" r="4.75" fill="#764ed0"/>
<circle cx="612.0" cy="1408.3" r="4.75" fill="#4c63e3"/>
<circle cx="578.0" cy="1426.3" r="4.75" fill="#8542c5"/>
<circle cx="583.6" cy="1426.3" r="4.75" fill="#764ed0"/>
<circle cx="589.1" cy="1426.3" r="4.75" fill="#9d22ac"/>
<circle cx="594.7" cy="1426.3" r="4.75" fill="#764ed0"/>
<circle cx="600.3" cy="1426.3" r="4.75" fill="#9233b9"/>
<circle cx="605.9" cy="1426.3" r="4.75" fill="#764ed0"/>
<circle cx="611.4" cy="1426.3" r="4.75" fill="#8542c5"/>
<circle cx="617.0" cy="1426.3" r="4.75" fill="#764ed0"/>
<circle cx="588.0" cy="1432.3" r="4.75" fill="#8542c5"/>
<circle cx="594.0" cy="1432.3" r="4.75" fill="#8542c5"/>
<circle cx="600.0" cy="1432.3" r="4.75" fill="#0084f9"/>
<circle cx="606.0" cy="1432.3" r="4.75" fill="#8542c5"/>
<circle cx="612.0" cy="1432.3" r="4.75" fill="#4c63e3"/>
<circle cx="552.3" cy="1420.3" r="4.75" fill="#0084f9"/>
<circle cx="568.9" cy="1420.3" r="4.75" fill="#9233b9"/>
<circle cx="578.6" cy="1420.3" r="4.75" fill="#4c63e3"/>
<circle cx="584.1" cy="1420.3" r="4.75" fill="#8542c5"/>
<circle cx="589.6" cy="1420.3" r="4.75" fill="#8542c5"/>
<circle cx="595.1" cy="1420.3" r="4.75" fill="#4c63e3"/>
<circle cx="600.6" cy="1420.3" r="4.75" fill="#6459da"/>
<circle cx="606.0" cy="1420.3" r="4.75" fill="#8542c5"/>
<circle cx="611.5" cy="1420.3" r="4.75" fill="#764ed0"/>
<circle cx="617.0" cy="1420.3" r="4.75" fill="#9233b9"/>
<circle cx="622.5" cy="1420.3" r="4.75" fill="#8542c5"/>
<circle cx="628.0" cy="1420.3" r="4.75" fill="#007cf5"/>
<circle cx="580.0" cy="1414.3" r="4.75" fill="#8542c5"/>
<circle cx="585.9" cy="1414.3" r="4.75" fill="#007cf5"/>
<circle cx="591.8" cy="1414.3" r="4.75" fill="#9d22ac"/>
<circle cx="597.7" cy="1414.3" r="4.75" fill="#764ed0"/>
<circle cx="603.6" cy="1414.3" r="4.75" fill="#6459da"/>
<circle cx="609.5" cy="1414.3" r="4.75" fill="#8542c5"/>
<circle cx="615.4" cy="1414.3" r="4.75" fill="#4c63e3"/>
<circle cx="591.7" cy="1408.3" r="4.75" fill="#4c63e3"/>
<circle cx="596.5" cy="1408.3" r="4.75" fill="#9233b9"/>
<circle cx="601.4" cy="1408.3" r="4.75" fill="#764ed0"/>
<circle cx="606.2" cy="1408.3" r="4.75" fill="#8542c5"/>
<circle cx="611.0" cy="1408.3" r="4.75" fill="#9d22ac"/>
<circle cx="577.7" cy="1426.3" r="4.75" fill="#8542c5"/>
<circle cx="583.1" cy="1426.3" r="4.75" fill="#764ed0"/>
<circle cx="588.5" cy="1426.3" r="4.75" fill="#764ed0"/>
<circle cx="593.9" cy="1426.3" r="4.75" fill="#9233b9"/>
<circle cx="599.2" cy="1426.3" r="4.75" fill="#9d22ac"/>
<circle cx="604.6" cy="1426.3" r="4.75" fill="#4c63e3"/>
<circle cx="610.0" cy="1426.3" r="4.75" fill="#4c63e3"/>
<circle cx="615.4" cy="1426.3" r="4.75" fill="#9233b9"/>
<circle cx="589.0" cy="1432.3" r="4.75" fill="#4c63e3"/>
<circle cx="594.7" cy="1432.3" r="4.75" fill="#9d22ac"/>
<circle cx="600.5" cy="1432.3" r="4.75" fill="#8542c5"/>
<circle cx="606.2" cy="1432.3" r="4.75" fill="#764ed0"/>
<circle cx="611.9" cy="1432.3" r="4.75" fill="#9233b9"/>
<circle cx="631.6" cy="1420.3" r="4.75" fill="#d40090"/>
<circle cx="619.8" cy="1414.3" r="4.75" fill="#007cf5"/>
<circle cx="599.6" cy="1402.3" r="4.75" fill="#007cf5"/>
<circle cx="599.6" cy="1438.3" r="4.75" fill="#9233b9"/>
<circle cx="610.1" cy="1432.3" r="4.75" fill="#0084f9"/>
<circle cx="584.0" cy="1414.3" r="4.75" fill="#0084f9"/>
<circle cx="676.1" cy="1420.3" r="4.75" fill="#fe005c"/>
<circle cx="682.9" cy="1420.3" r="4.75" fill="#f10072"/>
<circle cx="692.8" cy="1420.3" r="4.75" fill="#e9007c"/>
<circle cx="697.2" cy="1420.3" r="4.75" fill="#f80067"/>
<circle cx="712.7" cy="1420.3" r="4.75" fill="#c70098"/>
<circle cx="724.5" cy="1420.3" r="4.75" fill="#fe005c"/>
<circle cx="734.4" cy="1420.3" r="4.75" fill="#fe005c"/>
<circle cx="777.3" cy="1420.3" r="4.75" fill="#fe005c"/>
<circle cx="786.0" cy="1420.3" r="4.75" fill="#fe005c"/>
<circle cx="792.8" cy="1420.3" r="4.75" fill="#fe005c"/>
<circle cx="674.8" cy="1414.3" r="4.75" fill="#c70098"/>
<circle cx="695.3" cy="1414.3" r="4.75" fill="#fe005c"/>
<circle cx="625.0" cy="1475.7" r="4.75" fill="#c70098"/>
<circle cx="642.0" cy="1475.7" r="4.75" fill="#8542c5"/>
<circle cx="636.0" cy="1481.4" r="4.75" fill="#9233b9"/>
<circle cx="646.0" cy="1481.4" r="4.75" fill="#8542c5"/>
<circle cx="624.0" cy="1509.9" r="4.75" fill="#d40090"/>
<circle cx="638.0" cy="1504.2" r="4.75" fill="#8542c5"/>
<circle cx="646.0" cy="1504.2" r="4.75" fill="#aa17a7"/>
<circle cx="625.0" cy="1470.0" r="4.75" fill="#b900a0"/>
<circle cx="625.0" cy="1515.6" r="4.75" fill="#c70098"/>
<circle cx="556.0" cy="1492.8" r="4.75" fill="#ff0058"/>
<circle cx="561.6" cy="1492.8" r="4.75" fill="#ff0056"/>
<circle cx="567.2" cy="1492.8" r="4.75" fill="#ff0051"/>
<circle cx="572.7" cy="1492.8" r="4.75" fill="#fb0063"/>
<circle cx="578.3" cy="1492.8" r="4.75" fill="#f6006c"/>
<circle cx="583.9" cy="1492.8" r="4.75" fill="#f6006c"/>
<circle cx="589.5" cy="1492.8" r="4.75" fill="#f6006c"/>
<circle cx="595.1" cy="1492.8" r="4.75" fill="#fa0065"/>
<circle cx="600.6" cy="1492.8" r="4.75" fill="#fa0065"/>
<circle cx="606.2" cy="1492.8" r="4.75" fill="#e10084"/>
<circle cx="611.8" cy="1492.8" r="4.75" fill="#db008a"/>
<circle cx="617.4" cy="1492.8" r="4.75" fill="#d9008c"/>
<circle cx="622.9" cy="1492.8" r="4.75" fill="#b900a0"/>
<circle cx="628.5" cy="1492.8" r="4.75" fill="#c5009a"/>
<circle cx="634.1" cy="1492.8" r="4.75" fill="#9d22ac"/>
<circle cx="639.7" cy="1492.8" r="4.75" fill="#883fc2"/>
<circle cx="645.3" cy="1492.8" r="4.75" fill="#7f47c9"/>
<circle cx="650.8" cy="1492.8" r="4.75" fill="#266cea"/>
<circle cx="656.4" cy="1492.8" r="4.75" fill="#0081f7"/>
<circle cx="662.0" cy="1492.8" r="4.75" fill="#0084f9"/>
<circle cx="604.0" cy="1487.1" r="4.75" fill="#ec0078"/>
<circle cx="609.8" cy="1487.1" r="4.75" fill="#f00074"/>
<circle cx="615.5" cy="1487.1" r="4.75" fill="#c70098"/>
<circle cx="621.2" cy="1487.1" r="4.75" fill="#ca0097"/>
<circle cx="627.0" cy="1487.1" r="4.75" fill="#c70098"/>
<circle cx="632.8" cy="1487.1" r="4.75" fill="#a31daa"/>
<circle cx="638.5" cy="1487.1" r="4.75" fill="#962db3"/>
<circle cx="644.2" cy="1487.1" r="4.75" fill="#605bdc"/>
<circle cx="650.0" cy="1487.1" r="4.75" fill="#0074f0"/>
<circle cx="604.0" cy="1498.5" r="4.75" fill="#f10072"/>
<circle cx="609.8" cy="1498.5" r="4.75" fill="#ec0078"/>
<circle cx="615.5" cy="1498.5" r="4.75" fill="#cf0093"/>
<circle cx="621.2" cy="1498.5" r="4.75" fill="#d9008c"/>
<circle cx="627.0" cy="1498.5" r="4.75" fill="#b00fa5"/>
<circle cx="632.8" cy="1498.5" r="4.75" fill="#bc009f"/>
<circle cx="638.5" cy="1498.5" r="4.75" fill="#a71aa9"/>
<circle cx="644.2" cy="1498.5" r="4.75" fill="#7d49cc"/>
<circle cx="650.0" cy="1498.5" r="4.75" fill="#0076f1"/>
<circle cx="610.0" cy="1481.4" r="4.75" fill="#e10084"/>
<circle cx="616.0" cy="1481.4" r="4.75" fill="#dd0088"/>
<circle cx="622.0" cy="1481.4" r="4.75" fill="#c2009c"/>
<circle cx="612.0" cy="1504.2" r="4.75" fill="#d9008c"/>
<circle cx="618.0" cy="1504.2" r="4.75" fill="#db008a"/>
<circle cx="624.0" cy="1504.2" r="4.75" fill="#cf0093"/>
<circle cx="434.2" cy="1492.8" r="4.75" fill="#fe005c"/>
<circle cx="520.8" cy="1492.8" r="4.75" fill="#f80067"/>
<circle cx="526.3" cy="1492.8" r="4.75" fill="#f80067"/>
<circle cx="545.4" cy="1492.8" r="4.75" fill="#fe005c"/>
<circle cx="550.9" cy="1492.8" r="4.75" fill="#fe005c"/>
<circle cx="561.3" cy="1492.8" r="4.75" fill="#f80067"/>
<circle cx="567.9" cy="1492.8" r="4.75" fill="#f80067"/>
<circle cx="525.2" cy="1487.1" r="4.75" fill="#fe005c"/>
<circle cx="556.0" cy="1492.8" r="4.75" fill="#fe005c"/>
<circle cx="562.3" cy="1492.8" r="4.75" fill="#fe005c"/>
<circle cx="568.7" cy="1492.8" r="4.75" fill="#fe005c"/>
<circle cx="575.0" cy="1492.8" r="4.75" fill="#fe005c"/>
<circle cx="577.5" cy="1492.8" r="4.75" fill="#fe005c"/>
<circle cx="583.0" cy="1492.8" r="4.75" fill="#fe005c"/>
<circle cx="589.0" cy="1492.8" r="4.75" fill="#fe005c"/>
<circle cx="595.0" cy="1492.8" r="4.75" fill="#fe005c"/>
<circle cx="603.8" cy="1492.8" r="4.75" fill="#f10072"/>
<circle cx="610.8" cy="1492.8" r="4.75" fill="#df0086"/>
<circle cx="617.0" cy="1492.8" r="4.75" fill="#d40090"/>
<circle cx="623.0" cy="1492.8" r="4.75" fill="#c70098"/>
<circle cx="629.2" cy="1492.8" r="4.75" fill="#c70098"/>
<circle cx="635.4" cy="1492.8" r="4.75" fill="#9233b9"/>
<circle cx="641.5" cy="1492.8" r="4.75" fill="#764ed0"/>
<circle cx="647.6" cy="1492.8" r="4.75" fill="#266cea"/>
<circle cx="653.8" cy="1492.8" r="4.75" fill="#0084f9"/>
<circle cx="661.7" cy="1492.8" r="4.75" fill="#0084f9"/>
<circle cx="678.3" cy="1492.8" r="4.75" fill="#0084f9"/>
<circle cx="577.5" cy="1487.1" r="4.75" fill="#fe005c"/>
<circle cx="605.6" cy="1487.1" r="4.75" fill="#e9007c"/>
<circle cx="612.6" cy="1487.1" r="4.75" fill="#df0086"/>
<circle cx="621.3" cy="1487.1" r="4.75" fill="#c70098"/>
<circle cx="630.1" cy="1487.1" r="4.75" fill="#6459da"/>
<circle cx="635.4" cy="1487.1" r="4.75" fill="#b900a0"/>
<circle cx="643.3" cy="1487.1" r="4.75" fill="#764ed0"/>
<circle cx="612.6" cy="1481.4" r="4.75" fill="#df0086"/>
<circle cx="644.1" cy="1481.4" r="4.75" fill="#764ed0"/>
<circle cx="604.7" cy="1498.5" r="4.75" fill="#e9007c"/>
<circle cx="612.6" cy="1498.5" r="4.75" fill="#df0086"/>
<circle cx="625.0" cy="1498.5" r="4.75" fill="#c70098"/>
<circle cx="632.7" cy="1498.5" r="4.75" fill="#6459da"/>
<circle cx="640.6" cy="1498.5" r="4.75" fill="#8542c5"/>
<circle cx="652.9" cy="1498.5" r="4.75" fill="#007cf5"/>
<circle cx="614.3" cy="1504.2" r="4.75" fill="#df0086"/>
<circle cx="644.1" cy="1504.2" r="4.75" fill="#aa17a7"/>
<circle cx="680.5" cy="1492.8" r="4.75" fill="#0088fa"/>
<circle cx="686.1" cy="1492.8" r="4.75" fill="#0088fa"/>
<circle cx="700.4" cy="1492.8" r="4.75" fill="#0088fa"/>
<circle cx="764.3" cy="1492.8" r="4.75" fill="#0088fa"/>
<circle cx="806.5" cy="1492.8" r="4.75" fill="#0088fa"/>
<circle cx="814.0" cy="1492.8" r="4.75" fill="#0088fa"/>
<circle cx="611.0" cy="1543.0" r="4.75" fill="#0084f9"/>
<circle cx="611.0" cy="1586.2" r="4.75" fill="#8542c5"/>
<circle cx="576.0" cy="1564.6" r="4.75" fill="#008bfb"/>
<circle cx="581.3" cy="1564.6" r="4.75" fill="#0079f3"/>
<circle cx="586.7" cy="1564.6" r="4.75" fill="#008bfb"/>
<circle cx="592.0" cy="1564.6" r="4.75" fill="#006fed"/>
<circle cx="597.3" cy="1564.6" r="4.75" fill="#008bfb"/>
<circle cx="602.7" cy="1564.6" r="4.75" fill="#0073ef"/>
<circle cx="608.0" cy="1564.6" r="4.75" fill="#4066e6"/>
<circle cx="613.3" cy="1564.6" r="4.75" fill="#266cea"/>
<circle cx="618.7" cy="1564.6" r="4.75" fill="#7d49cc"/>
<circle cx="624.0" cy="1564.6" r="4.75" fill="#9829b1"/>
<circle cx="585.0" cy="1559.2" r="4.75" fill="#0086fa"/>
<circle cx="590.6" cy="1559.2" r="4.75" fill="#0076f1"/>
<circle cx="596.1" cy="1559.2" r="4.75" fill="#0082f8"/>
<circle cx="601.7" cy="1559.2" r="4.75" fill="#0074f0"/>
<circle cx="607.3" cy="1559.2" r="4.75" fill="#0073ef"/>
<circle cx="612.9" cy="1559.2" r="4.75" fill="#794cce"/>
<circle cx="618.4" cy="1559.2" r="4.75" fill="#5261e1"/>
<circle cx="624.0" cy="1559.2" r="4.75" fill="#764ed0"/>
<circle cx="595.0" cy="1553.8" r="4.75" fill="#008bfb"/>
<circle cx="600.4" cy="1553.8" r="4.75" fill="#007ef6"/>
<circle cx="605.8" cy="1553.8" r="4.75" fill="#0082f8"/>
<circle cx="611.2" cy="1553.8" r="4.75" fill="#5261e1"/>
<circle cx="616.6" cy="1553.8" r="4.75" fill="#8244c7"/>
<circle cx="622.0" cy="1553.8" r="4.75" fill="#9430b6"/>
<circle cx="600.0" cy="1548.4" r="4.75" fill="#0081f7"/>
<circle cx="606.0" cy="1548.4" r="4.75" fill="#266cea"/>
<circle cx="612.0" cy="1548.4" r="4.75" fill="#4c63e3"/>
<circle cx="618.0" cy="1548.4" r="4.75" fill="#764ed0"/>
<circle cx="595.0" cy="1570.0" r="4.75" fill="#0082f8"/>
<circle cx="600.4" cy="1570.0" r="4.75" fill="#0086fa"/>
<circle cx="605.8" cy="1570.0" r="4.75" fill="#007ff7"/>
<circle cx="611.2" cy="1570.0" r="4.75" fill="#6c54d6"/>
<circle cx="616.6" cy="1570.0" r="4.75" fill="#306ae9"/>
<circle cx="622.0" cy="1570.0" r="4.75" fill="#6c54d6"/>
<circle cx="598.0" cy="1575.4" r="4.75" fill="#007bf4"/>
<circle cx="603.5" cy="1575.4" r="4.75" fill="#0076f1"/>
<circle cx="609.0" cy="1575.4" r="4.75" fill="#3968e7"/>
<circle cx="614.5" cy="1575.4" r="4.75" fill="#4664e4"/>
<circle cx="620.0" cy="1575.4" r="4.75" fill="#7d49cc"/>
<circle cx="600.0" cy="1580.8" r="4.75" fill="#007bf4"/>
<circle cx="605.7" cy="1580.8" r="4.75" fill="#0088fa"/>
<circle cx="611.3" cy="1580.8" r="4.75" fill="#5261e1"/>
<circle cx="617.0" cy="1580.8" r="4.75" fill="#794cce"/>
<circle cx="580.1" cy="1564.6" r="4.75" fill="#0084f9"/>
<circle cx="590.2" cy="1564.6" r="4.75" fill="#4c63e3"/>
<circle cx="598.9" cy="1564.6" r="4.75" fill="#0084f9"/>
<circle cx="606.8" cy="1564.6" r="4.75" fill="#8542c5"/>
<circle cx="613.8" cy="1564.6" r="4.75" fill="#0084f9"/>
<circle cx="620.8" cy="1564.6" r="4.75" fill="#6459da"/>
<circle cx="626.1" cy="1564.6" r="4.75" fill="#0074f0"/>
<circle cx="636.6" cy="1564.6" r="4.75" fill="#0084f9"/>
<circle cx="642.7" cy="1564.6" r="4.75" fill="#c70098"/>
<circle cx="648.9" cy="1564.6" r="4.75" fill="#764ed0"/>
<circle cx="657.6" cy="1564.6" r="4.75" fill="#fe005c"/>
<circle cx="662.9" cy="1564.6" r="4.75" fill="#fe005c"/>
<circle cx="673.0" cy="1564.6" r="4.75" fill="#fe005c"/>
<circle cx="689.6" cy="1564.6" r="4.75" fill="#fe005c"/>
<circle cx="691.8" cy="1564.6" r="4.75" fill="#fe005c"/>
<circle cx="768.5" cy="1564.6" r="4.75" fill="#fe005c"/>
<circle cx="588.8" cy="1559.2" r="4.75" fill="#0084f9"/>
<circle cx="598.0" cy="1559.2" r="4.75" fill="#007cf5"/>
<circle cx="609.4" cy="1559.2" r="4.75" fill="#266cea"/>
<circle cx="616.5" cy="1559.2" r="4.75" fill="#8542c5"/>
<circle cx="622.6" cy="1559.2" r="4.75" fill="#764ed0"/>
<circle cx="637.0" cy="1559.2" r="4.75" fill="#f80067"/>
<circle cx="658.5" cy="1559.2" r="4.75" fill="#9233b9"/>
<circle cx="662.9" cy="1559.2" r="4.75" fill="#f80067"/>
<circle cx="598.9" cy="1553.8" r="4.75" fill="#007cf5"/>
<circle cx="608.6" cy="1553.8" r="4.75" fill="#0084f9"/>
<circle cx="619.1" cy="1553.8" r="4.75" fill="#764ed0"/>
<circle cx="602.4" cy="1548.4" r="4.75" fill="#0084f9"/>
<circle cx="615.6" cy="1548.4" r="4.75" fill="#8542c5"/>
<circle cx="598.9" cy="1570.0" r="4.75" fill="#0084f9"/>
<circle cx="609.4" cy="1570.0" r="4.75" fill="#007cf5"/>
<circle cx="622.6" cy="1570.0" r="4.75" fill="#9d22ac"/>
<circle cx="603.3" cy="1575.4" r="4.75" fill="#aa17a7"/>
<circle cx="612.1" cy="1575.4" r="4.75" fill="#0084f9"/>
<circle cx="603.3" cy="1580.8" r="4.75" fill="#0084f9"/>
<circle cx="623.0" cy="1616.0" r="4.75" fill="#9233b9"/>
<circle cx="620.0" cy="1656.0" r="4.75" fill="#d40090"/>
<circle cx="590.0" cy="1636.0" r="4.75" fill="#9a25ae"/>
<circle cx="595.5" cy="1636.0" r="4.75" fill="#7f47c9"/>
<circle cx="600.9" cy="1636.0" r="4.75" fill="#8244c7"/>
<circle cx="606.4" cy="1636.0" r="4.75" fill="#bc009f"/>
<circle cx="611.9" cy="1636.0" r="4.75" fill="#d9008c"/>
<circle cx="617.3" cy="1636.0" r="4.75" fill="#cf0093"/>
<circle cx="622.8" cy="1636.0" r="4.75" fill="#c2009c"/>
<circle cx="628.3" cy="1636.0" r="4.75" fill="#764ed0"/>
<circle cx="633.7" cy="1636.0" r="4.75" fill="#006fed"/>
<circle cx="639.2" cy="1636.0" r="4.75" fill="#008bfb"/>
<circle cx="644.7" cy="1636.0" r="4.75" fill="#0081f7"/>
<circle cx="650.1" cy="1636.0" r="4.75" fill="#0082f8"/>
<circle cx="655.6" cy="1636.0" r="4.75" fill="#008bfb"/>
<circle cx="661.1" cy="1636.0" r="4.75" fill="#007ff7"/>
<circle cx="666.5" cy="1636.0" r="4.75" fill="#007bf4"/>
<circle cx="672.0" cy="1636.0" r="4.75" fill="#0086fa"/>
<circle cx="606.0" cy="1631.0" r="4.75" fill="#bf009d"/>
<circle cx="611.5" cy="1631.0" r="4.75" fill="#d6008e"/>
<circle cx="617.0" cy="1631.0" r="4.75" fill="#e10084"/>
<circle cx="622.5" cy="1631.0" r="4.75" fill="#bf009d"/>
<circle cx="628.0" cy="1631.0" r="4.75" fill="#883fc2"/>
<circle cx="607.0" cy="1626.0" r="4.75" fill="#a71aa9"/>
<circle cx="612.0" cy="1626.0" r="4.75" fill="#b900a0"/>
<circle cx="617.0" cy="1626.0" r="4.75" fill="#b900a0"/>
<circle cx="622.0" cy="1626.0" r="4.75" fill="#cd0095"/>
<circle cx="627.0" cy="1626.0" r="4.75" fill="#c70098"/>
<circle cx="611.0" cy="1621.0" r="4.75" fill="#e7007e"/>
<circle cx="616.0" cy="1621.0" r="4.75" fill="#c5009a"/>
<circle cx="621.0" cy="1621.0" r="4.75" fill="#bf009d"/>
<circle cx="626.0" cy="1621.0" r="4.75" fill="#d10091"/>
<circle cx="606.0" cy="1641.0" r="4.75" fill="#d40090"/>
<circle cx="611.5" cy="1641.0" r="4.75" fill="#cd0095"/>
<circle cx="617.0" cy="1641.0" r="4.75" fill="#c70098"/>
<circle cx="622.5" cy="1641.0" r="4.75" fill="#b604a2"/>
<circle cx="628.0" cy="1641.0" r="4.75" fill="#a71aa9"/>
<circle cx="607.0" cy="1646.0" r="4.75" fill="#b900a0"/>
<circle cx="612.0" cy="1646.0" r="4.75" fill="#e30082"/>
<circle cx="617.0" cy="1646.0" r="4.75" fill="#ca0097"/>
<circle cx="622.0" cy="1646.0" r="4.75" fill="#dd0088"/>
<circle cx="627.0" cy="1646.0" r="4.75" fill="#b900a0"/>
<circle cx="611.0" cy="1651.0" r="4.75" fill="#bf009d"/>
<circle cx="616.0" cy="1651.0" r="4.75" fill="#e50080"/>
<circle cx="621.0" cy="1651.0" r="4.75" fill="#db008a"/>
<circle cx="626.0" cy="1651.0" r="4.75" fill="#bc009f"/>
<circle cx="593.1" cy="1636.0" r="4.75" fill="#8542c5"/>
<circle cx="598.4" cy="1636.0" r="4.75" fill="#8542c5"/>
<circle cx="604.5" cy="1636.0" r="4.75" fill="#fe005c"/>
<circle cx="610.7" cy="1636.0" r="4.75" fill="#df0086"/>
<circle cx="616.8" cy="1636.0" r="4.75" fill="#fe005c"/>
<circle cx="623.8" cy="1636.0" r="4.75" fill="#d40090"/>
<circle cx="629.0" cy="1636.0" r="4.75" fill="#9d22ac"/>
<circle cx="636.1" cy="1636.0" r="4.75" fill="#266cea"/>
<circle cx="641.3" cy="1636.0" r="4.75" fill="#b900a0"/>
<circle cx="645.7" cy="1636.0" r="4.75" fill="#0084f9"/>
<circle cx="654.5" cy="1636.0" r="4.75" fill="#fe005c"/>
<circle cx="658.9" cy="1636.0" r="4.75" fill="#007cf5"/>
<circle cx="665.0" cy="1636.0" r="4.75" fill="#fe005c"/>
<circle cx="672.0" cy="1636.0" r="4.75" fill="#0084f9"/>
<circle cx="750.0" cy="1636.0" r="4.75" fill="#0084f9"/>
<circle cx="608.9" cy="1631.0" r="4.75" fill="#e9007c"/>
<circle cx="615.1" cy="1631.0" r="4.75" fill="#764ed0"/>
<circle cx="623.8" cy="1631.0" r="4.75" fill="#d40090"/>
<circle cx="632.6" cy="1631.0" r="4.75" fill="#4c63e3"/>
<circle cx="641.3" cy="1631.0" r="4.75" fill="#f10072"/>
<circle cx="645.7" cy="1631.0" r="4.75" fill="#0084f9"/>
<circle cx="655.4" cy="1631.0" r="4.75" fill="#0084f9"/>
<circle cx="662.4" cy="1631.0" r="4.75" fill="#0084f9"/>
<circle cx="670.3" cy="1631.0" r="4.75" fill="#0084f9"/>
<circle cx="608.0" cy="1626.0" r="4.75" fill="#e9007c"/>
<circle cx="616.8" cy="1626.0" r="4.75" fill="#df0086"/>
<circle cx="623.8" cy="1626.0" r="4.75" fill="#b900a0"/>
<circle cx="615.1" cy="1621.0" r="4.75" fill="#764ed0"/>
<circle cx="622.1" cy="1621.0" r="4.75" fill="#df0086"/>
<circle cx="608.0" cy="1641.0" r="4.75" fill="#9d22ac"/>
<circle cx="616.8" cy="1641.0" r="4.75" fill="#e9007c"/>
<circle cx="624.7" cy="1641.0" r="4.75" fill="#c70098"/>
<circle cx="644.9" cy="1641.0" r="4.75" fill="#0084f9"/>
<circle cx="654.5" cy="1641.0" r="4.75" fill="#0084f9"/>
<circle cx="609.8" cy="1646.0" r="4.75" fill="#9233b9"/>
<circle cx="618.6" cy="1646.0" r="4.75" fill="#d40090"/>
<circle cx="624.7" cy="1646.0" r="4.75" fill="#d40090"/>
<circle cx="611.6" cy="1651.0" r="4.75" fill="#9233b9"/>
<circle cx="618.6" cy="1651.0" r="4.75" fill="#d40090"/>
<circle cx="624.7" cy="1651.0" r="4.75" fill="#c70098"/>
<circle cx="628.0" cy="1688.1" r="4.75" fill="#764ed0"/>
<circle cx="594.0" cy="1707.9" r="4.75" fill="#cf0093"/>
<circle cx="599.5" cy="1707.9" r="4.75" fill="#e10084"/>
<circle cx="604.9" cy="1707.9" r="4.75" fill="#f10072"/>
<circle cx="610.4" cy="1707.9" r="4.75" fill="#eb007a"/>
<circle cx="615.8" cy="1707.9" r="4.75" fill="#e9007c"/>
<circle cx="621.3" cy="1707.9" r="4.75" fill="#e50080"/>
<circle cx="626.8" cy="1707.9" r="4.75" fill="#d9008c"/>
<circle cx="632.2" cy="1707.9" r="4.75" fill="#9829b1"/>
<circle cx="637.7" cy="1707.9" r="4.75" fill="#0073ef"/>
<circle cx="643.2" cy="1707.9" r="4.75" fill="#0071ee"/>
<circle cx="648.6" cy="1707.9" r="4.75" fill="#306ae9"/>
<circle cx="654.1" cy="1707.9" r="4.75" fill="#0071ee"/>
<circle cx="659.5" cy="1707.9" r="4.75" fill="#186deb"/>
<circle cx="665.0" cy="1707.9" r="4.75" fill="#0082f8"/>
<circle cx="594.0" cy="1701.3" r="4.75" fill="#f10072"/>
<circle cx="599.3" cy="1701.3" r="4.75" fill="#f10072"/>
<circle cx="604.5" cy="1701.3" r="4.75" fill="#f30070"/>
<circle cx="609.8" cy="1701.3" r="4.75" fill="#f7006a"/>
<circle cx="615.1" cy="1701.3" r="4.75" fill="#d40090"/>
<circle cx="620.4" cy="1701.3" r="4.75" fill="#db008a"/>
<circle cx="625.6" cy="1701.3" r="4.75" fill="#a01fab"/>
<circle cx="630.9" cy="1701.3" r="4.75" fill="#aa17a7"/>
<circle cx="636.2" cy="1701.3" r="4.75" fill="#6857d8"/>
<circle cx="641.5" cy="1701.3" r="4.75" fill="#0079f3"/>
<circle cx="646.7" cy="1701.3" r="4.75" fill="#4c63e3"/>
<circle cx="652.0" cy="1701.3" r="4.75" fill="#007bf4"/>
<circle cx="614.0" cy="1694.7" r="4.75" fill="#cf0093"/>
<circle cx="619.2" cy="1694.7" r="4.75" fill="#e9007c"/>
<circle cx="624.3" cy="1694.7" r="4.75" fill="#b30aa3"/>
<circle cx="629.5" cy="1694.7" r="4.75" fill="#a01fab"/>
<circle cx="634.7" cy="1694.7" r="4.75" fill="#605bdc"/>
<circle cx="639.8" cy="1694.7" r="4.75" fill="#007ef6"/>
<circle cx="645.0" cy="1694.7" r="4.75" fill="#006fed"/>
<circle cx="604.0" cy="1714.5" r="4.75" fill="#cd0095"/>
<circle cx="609.1" cy="1714.5" r="4.75" fill="#f6006c"/>
<circle cx="614.3" cy="1714.5" r="4.75" fill="#d40090"/>
<circle cx="619.4" cy="1714.5" r="4.75" fill="#d6008e"/>
<circle cx="624.6" cy="1714.5" r="4.75" fill="#e50080"/>
<circle cx="629.7" cy="1714.5" r="4.75" fill="#a01fab"/>
<circle cx="634.9" cy="1714.5" r="4.75" fill="#8a3cc0"/>
<circle cx="640.0" cy="1714.5" r="4.75" fill="#007ef6"/>
<circle cx="611.0" cy="1721.1" r="4.75" fill="#d9008c"/>
<circle cx="616.8" cy="1721.1" r="4.75" fill="#d6008e"/>
<circle cx="622.6" cy="1721.1" r="4.75" fill="#ec0078"/>
<circle cx="628.4" cy="1721.1" r="4.75" fill="#9233b9"/>
<circle cx="634.2" cy="1721.1" r="4.75" fill="#6857d8"/>
<circle cx="640.0" cy="1721.1" r="4.75" fill="#0076f1"/>
<circle cx="580.2" cy="1707.9" r="4.75" fill="#fe005c"/>
<circle cx="597.7" cy="1707.9" r="4.75" fill="#e9007c"/>
<circle cx="603.0" cy="1707.9" r="4.75" fill="#df0086"/>
<circle cx="609.1" cy="1707.9" r="4.75" fill="#d40090"/>
<circle cx="614.3" cy="1707.9" r="4.75" fill="#df0086"/>
<circle cx="620.5" cy="1707.9" r="4.75" fill="#f80067"/>
<circle cx="625.0" cy="1707.9" r="4.75" fill="#b900a0"/>
<circle cx="630.1" cy="1707.9" r="4.75" fill="#266cea"/>
<circle cx="635.0" cy="1707.9" r="4.75" fill="#8542c5"/>
<circle cx="640.6" cy="1707.9" r="4.75" fill="#b900a0"/>
<circle cx="648.5" cy="1707.9" r="4.75" fill="#0084f9"/>
<circle cx="656.4" cy="1707.9" r="4.75" fill="#aa17a7"/>
<circle cx="663.0" cy="1707.9" r="4.75" fill="#0084f9"/>
<circle cx="597.7" cy="1701.3" r="4.75" fill="#d40090"/>
<circle cx="603.0" cy="1701.3" r="4.75" fill="#d40090"/>
<circle cx="608.2" cy="1701.3" r="4.75" fill="#d40090"/>
<circle cx="613.5" cy="1701.3" r="4.75" fill="#d40090"/>
<circle cx="619.6" cy="1701.3" r="4.75" fill="#fe005c"/>
<circle cx="625.0" cy="1701.3" r="4.75" fill="#9d22ac"/>
<circle cx="631.0" cy="1701.3" r="4.75" fill="#b900a0"/>
<circle cx="638.9" cy="1701.3" r="4.75" fill="#0084f9"/>
<circle cx="649.4" cy="1701.3" r="4.75" fill="#0084f9"/>
<circle cx="617.0" cy="1694.7" r="4.75" fill="#fe005c"/>
<circle cx="625.7" cy="1694.7" r="4.75" fill="#fe005c"/>
<circle cx="631.0" cy="1694.7" r="4.75" fill="#764ed0"/>
<circle cx="641.5" cy="1694.7" r="4.75" fill="#0084f9"/>
<circle cx="614.3" cy="1714.5" r="4.75" fill="#fe005c"/>
<circle cx="618.7" cy="1714.5" r="4.75" fill="#9233b9"/>
<circle cx="628.4" cy="1714.5" r="4.75" fill="#8542c5"/>
<circle cx="635.4" cy="1714.5" r="4.75" fill="#9233b9"/>
<circle cx="642.4" cy="1714.5" r="4.75" fill="#0084f9"/>
<circle cx="617.0" cy="1721.1" r="4.75" fill="#fe005c"/>
<circle cx="627.5" cy="1721.1" r="4.75" fill="#b900a0"/>
<line x1="630.5" y1="990" x2="630.5" y2="1781" stroke="#999" stroke-width="3"/>
<line x1="356.3" y1="1780.8" x2="1115.5" y2="1780.8" stroke="#111" stroke-width="2"/>
<line x1="413.8" y1="1780" x2="413.8" y2="1788.6" stroke="#111" stroke-width="1.6"/>
<text x="413.8" y="1814.8" font-size="24" fill="#1a1a1a" text-anchor="middle">-0.2</text>
<line x1="522.1" y1="1780" x2="522.1" y2="1788.6" stroke="#111" stroke-width="1.6"/>
<text x="522.1" y="1814.8" font-size="24" fill="#1a1a1a" text-anchor="middle">-0.1</text>
<line x1="630.5" y1="1780" x2="630.5" y2="1788.6" stroke="#111" stroke-width="1.6"/>
<text x="630.5" y="1814.8" font-size="24" fill="#1a1a1a" text-anchor="middle">0.0</text>
<line x1="738.9" y1="1780" x2="738.9" y2="1788.6" stroke="#111" stroke-width="1.6"/>
<text x="738.9" y="1814.8" font-size="24" fill="#1a1a1a" text-anchor="middle">0.1</text>
<line x1="847.2" y1="1780" x2="847.2" y2="1788.6" stroke="#111" stroke-width="1.6"/>
<text x="847.2" y="1814.8" font-size="24" fill="#1a1a1a" text-anchor="middle">0.2</text>
<line x1="955.5" y1="1780" x2="955.5" y2="1788.6" stroke="#111" stroke-width="1.6"/>
<text x="955.5" y="1814.8" font-size="24" fill="#1a1a1a" text-anchor="middle">0.3</text>
<line x1="1063.9" y1="1780" x2="1063.9" y2="1788.6" stroke="#111" stroke-width="1.6"/>
<text x="1063.9" y="1814.8" font-size="24" fill="#1a1a1a" text-anchor="middle">0.4</text>
<text x="736" y="1851.3" font-size="30" fill="#111" text-anchor="middle">SHAP value</text>
<rect x="1162.2" y="989.6" width="10" height="790.4" fill="url(#cb)"/>
<text x="1181.5" y="998.5" font-size="25" fill="#111">High</text>
<text x="1181.5" y="1790" font-size="25" fill="#111">Low</text>
<text transform="translate(1253,1386) rotate(-90)" font-size="28" fill="#111" text-anchor="middle">Feature value</text>
<line x1="5.0" y1="2031.0" x2="1364.5" y2="2031.0" stroke="#8a8a8a" stroke-width="1.6"/>
<line x1="17.5" y1="2026.5" x2="17.5" y2="2031.0" stroke="#222" stroke-width="1.2"/>
<text x="17.5" y="2019.0" font-size="16.5" fill="#111" text-anchor="middle" font-weight="normal">0.4</text>
<line x1="223.0" y1="2026.5" x2="223.0" y2="2031.0" stroke="#222" stroke-width="1.2"/>
<text x="223.0" y="2019.0" font-size="16.5" fill="#111" text-anchor="middle" font-weight="normal">0.5</text>
<line x1="428.5" y1="2026.5" x2="428.5" y2="2031.0" stroke="#222" stroke-width="1.2"/>
<text x="428.5" y="2019.0" font-size="16.5" fill="#111" text-anchor="middle" font-weight="normal">0.6</text>
<line x1="634.0" y1="2026.5" x2="634.0" y2="2031.0" stroke="#222" stroke-width="1.2"/>
<text x="634.0" y="2019.0" font-size="16.5" fill="#111" text-anchor="middle" font-weight="normal">0.7</text>
<line x1="839.5" y1="2026.5" x2="839.5" y2="2031.0" stroke="#222" stroke-width="1.2"/>
<text x="839.5" y="2019.0" font-size="16.5" fill="#111" text-anchor="middle" font-weight="normal">0.8</text>
<line x1="1045.0" y1="2026.5" x2="1045.0" y2="2031.0" stroke="#222" stroke-width="1.2"/>
<text x="1045.0" y="2019.0" font-size="16.5" fill="#111" text-anchor="middle" font-weight="normal">0.9</text>
<line x1="1250.5" y1="2026.5" x2="1250.5" y2="2031.0" stroke="#222" stroke-width="1.2"/>
<text x="1250.5" y="2019.0" font-size="16.5" fill="#111" text-anchor="middle" font-weight="normal">1.0</text>
<line x1="229.0" y1="1998.0" x2="229.0" y2="2038.0" stroke="#ddd" stroke-width="1.2"/>
<text x="229.0" y="1975.3" font-size="14.5" fill="#8a8a8a" text-anchor="middle" font-weight="normal">base value</text>
<line x1="1147.4" y1="2009.0" x2="1147.4" y2="2046.4" stroke="#ddd" stroke-width="1.2"/>
<text x="1147.4" y="1975.6" font-size="13.7" fill="#8a8a8a" text-anchor="middle" font-weight="normal">f(x)</text>
<text x="1147.4" y="2000.0" font-size="16.5" fill="#000" text-anchor="middle" font-weight="bold">0.95</text>
<text x="1118.8" y="1952.0" font-size="15.5" fill="#ff0d57" text-anchor="end" font-weight="normal">higher</text>
<text x="1176.3" y="1952.0" font-size="15.2" fill="#1e88e5" text-anchor="start" font-weight="normal">lower</text>
<path d="M1143.2,1941.0 h11.5 M1154.7,1941.0 l-3.2,-2.6 M1154.7,1941.0 l-3.2,2.6" stroke="#ff0d57" stroke-width="1.6" fill="none"/>
<path d="M1143.2,1949.0 h11.5 M1143.2,1949.0 l3.2,-2.6 M1143.2,1949.0 l3.2,2.6" stroke="#1e88e5" stroke-width="1.6" fill="none"/>
<path d="M180.5,2077.5 L230.5,2077.5 L190.5,2101.0 L190.5,2134.0 L64.0,2134.0 L64.0,2101.0 Z" fill="url(#gr)"/>
<path d="M229.0,2077.5 L383.5,2077.5 L382.6,2101.0 L382.6,2134.0 L190.5,2134.0 L190.5,2101.0 Z" fill="url(#gr)"/>
<path d="M382.6,2077.5 L591.0,2077.5 L590.0,2101.0 L590.0,2134.0 L382.6,2134.0 L382.6,2101.0 Z" fill="url(#gr)"/>
<path d="M590.0,2077.5 L800.5,2077.5 L799.4,2101.0 L799.4,2134.0 L590.0,2134.0 L590.0,2101.0 Z" fill="url(#gr)"/>
<path d="M799.4,2077.5 L1147.4,2077.5 L1147.4,2101.0 L1147.4,2134.0 L799.4,2134.0 L799.4,2101.0 Z" fill="url(#gr)"/>
<path d="M1147.4,2077.5 L1187.8,2077.5 L1347.6,2101.0 L1347.6,2134.0 L1147.4,2134.0 L1147.4,2101.0 Z" fill="url(#gb)"/>
<path d="M180.5,2077.5 L64.0,2101.0 L64.0,2134.0" stroke="#ff0d57" stroke-width="1.1" fill="none" opacity="0.6"/>
<path d="M229.0,2077.5 L190.5,2101.0 L190.5,2134.0" stroke="#ff0d57" stroke-width="1.1" fill="none" opacity="0.6"/>
<path d="M382.6,2077.5 L382.6,2101.0 L382.6,2134.0" stroke="#ff0d57" stroke-width="1.1" fill="none" opacity="0.6"/>
<path d="M590.0,2077.5 L590.0,2101.0 L590.0,2134.0" stroke="#ff0d57" stroke-width="1.1" fill="none" opacity="0.6"/>
<path d="M799.4,2077.5 L799.4,2101.0 L799.4,2134.0" stroke="#ff0d57" stroke-width="1.1" fill="none" opacity="0.6"/>
<path d="M1187.8,2077.5 L1347.6,2101.0 L1347.6,2134.0" stroke="#1e88e5" stroke-width="1.1" fill="none" opacity="0.6"/>
<path d="M144.0,2046.4 L150.5,2046.4 L156.3,2061.9 L150.5,2077.5 L144.0,2077.5 L149.8,2061.9Z" fill="#ff0d57"/>
<path d="M150.5,2046.4 L184.8,2046.4 L190.6,2061.9 L184.8,2077.5 L150.5,2077.5 L156.3,2061.9Z" fill="#ff0d57"/>
<path d="M184.8,2046.4 L230.5,2046.4 L236.3,2061.9 L230.5,2077.5 L184.8,2077.5 L190.6,2061.9Z" fill="#ff0d57"/>
<path d="M230.5,2046.4 L383.5,2046.4 L389.3,2061.9 L383.5,2077.5 L230.5,2077.5 L236.3,2061.9Z" fill="#ff0d57"/>
<path d="M383.5,2046.4 L591.0,2046.4 L596.8,2061.9 L591.0,2077.5 L383.5,2077.5 L389.3,2061.9Z" fill="#ff0d57"/>
<path d="M591.0,2046.4 L800.5,2046.4 L806.3,2061.9 L800.5,2077.5 L591.0,2077.5 L596.8,2061.9Z" fill="#ff0d57"/>
<path d="M800.5,2046.4 L1146.2,2046.4 L1146.2,2061.9 L1146.2,2077.5 L800.5,2077.5 L806.3,2061.9Z" fill="#ff0d57"/>
<path d="M1148.6,2046.4 L1184.8,2046.4 L1179.0,2061.9 L1184.8,2077.5 L1148.6,2077.5 L1148.6,2061.9Z" fill="#1e88e5"/>
<path d="M1184.8,2046.4 L1219.4,2046.4 L1213.6,2061.9 L1219.4,2077.5 L1184.8,2077.5 L1179.0,2061.9Z" fill="#1e88e5"/>
<path d="M1219.4,2046.4 L1230.4,2046.4 L1224.6,2061.9 L1230.4,2077.5 L1219.4,2077.5 L1213.6,2061.9Z" fill="#1e88e5"/>
<path d="M144.0,2046.4 L149.8,2061.9 L144.0,2077.5" stroke="#ffc3d5" stroke-width="3" fill="none"/>
<path d="M150.5,2046.4 L156.3,2061.9 L150.5,2077.5" stroke="#ffc3d5" stroke-width="3" fill="none"/>
<path d="M184.8,2046.4 L190.6,2061.9 L184.8,2077.5" stroke="#ffc3d5" stroke-width="3" fill="none"/>
<path d="M230.5,2046.4 L236.3,2061.9 L230.5,2077.5" stroke="#ffc3d5" stroke-width="3" fill="none"/>
<path d="M383.5,2046.4 L389.3,2061.9 L383.5,2077.5" stroke="#ffc3d5" stroke-width="3" fill="none"/>
<path d="M591.0,2046.4 L596.8,2061.9 L591.0,2077.5" stroke="#ffc3d5" stroke-width="3" fill="none"/>
<path d="M800.5,2046.4 L806.3,2061.9 L800.5,2077.5" stroke="#ffc3d5" stroke-width="3" fill="none"/>
<path d="M1184.8,2046.4 L1179.0,2061.9 L1184.8,2077.5" stroke="#d1e6fa" stroke-width="3" fill="none"/>
<path d="M1219.4,2046.4 L1213.6,2061.9 L1219.4,2077.5" stroke="#d1e6fa" stroke-width="3" fill="none"/>
<path d="M1230.4,2046.4 L1224.6,2061.9 L1230.4,2077.5" stroke="#d1e6fa" stroke-width="3" fill="none"/>
<line x1="1147.4" y1="2045.4" x2="1147.4" y2="2078.5" stroke="#fff" stroke-width="2.4"/>
<line x1="1147.4" y1="2077.5" x2="1147.4" y2="2134.0" stroke="#ff0d57" stroke-width="1.1" opacity="0.6"/>
<text x="162.0" y="2124.3" font-size="14.35" fill="#ff0d57" text-anchor="end" font-weight="normal">INR = 1.07</text>
<text x="353.0" y="2124.3" font-size="14.35" fill="#ff0d57" text-anchor="end" font-weight="normal">Blood glucose = 11.81</text>
<text x="561.0" y="2124.3" font-size="14.35" fill="#ff0d57" text-anchor="end" font-weight="normal">Albumin = 32.5</text>
<text x="771.0" y="2124.3" font-size="14.35" fill="#ff0d57" text-anchor="end" font-weight="normal">NLR = 12.612</text>
<text x="1118.8" y="2124.3" font-size="14.35" fill="#ff0d57" text-anchor="end" font-weight="normal">Age = 89.0</text>
<text x="1175.8" y="2124.3" font-size="14.35" fill="#1e88e5" text-anchor="start" font-weight="normal">Serum creatinine = 60.0</text>
<line x1="5.3" y1="2391.5" x2="1362.0" y2="2391.5" stroke="#333" stroke-width="1.8"/>
<line x1="40.5" y1="2387.0" x2="40.5" y2="2391.5" stroke="#222" stroke-width="1.2"/>
<text x="40.5" y="2379.5" font-size="16.5" fill="#111" text-anchor="middle" font-weight="normal">0.0</text>
<line x1="208.4" y1="2387.0" x2="208.4" y2="2391.5" stroke="#222" stroke-width="1.2"/>
<text x="208.4" y="2379.5" font-size="16.5" fill="#111" text-anchor="middle" font-weight="normal">0.1</text>
<line x1="376.3" y1="2387.0" x2="376.3" y2="2391.5" stroke="#222" stroke-width="1.2"/>
<text x="376.3" y="2379.5" font-size="16.5" fill="#111" text-anchor="middle" font-weight="normal">0.2</text>
<line x1="544.2" y1="2387.0" x2="544.2" y2="2391.5" stroke="#222" stroke-width="1.2"/>
<text x="544.2" y="2379.5" font-size="16.5" fill="#111" text-anchor="middle" font-weight="normal">0.3</text>
<line x1="712.1" y1="2387.0" x2="712.1" y2="2391.5" stroke="#222" stroke-width="1.2"/>
<text x="712.1" y="2379.5" font-size="16.5" fill="#111" text-anchor="middle" font-weight="normal">0.4</text>
<line x1="880.0" y1="2387.0" x2="880.0" y2="2391.5" stroke="#222" stroke-width="1.2"/>
<text x="880.0" y="2379.5" font-size="16.5" fill="#111" text-anchor="middle" font-weight="normal">0.5</text>
<line x1="1047.9" y1="2387.0" x2="1047.9" y2="2391.5" stroke="#222" stroke-width="1.2"/>
<text x="1047.9" y="2379.5" font-size="16.5" fill="#111" text-anchor="middle" font-weight="normal">0.6</text>
<line x1="1215.8" y1="2387.0" x2="1215.8" y2="2391.5" stroke="#222" stroke-width="1.2"/>
<text x="1215.8" y="2379.5" font-size="16.5" fill="#111" text-anchor="middle" font-weight="normal">0.7</text>
<line x1="885.5" y1="2358.5" x2="885.5" y2="2398.5" stroke="#ddd" stroke-width="1.2"/>
<text x="885.5" y="2334.8" font-size="14.5" fill="#8a8a8a" text-anchor="middle" font-weight="normal">base value</text>
<line x1="577.8" y1="2369.5" x2="577.8" y2="2407.8" stroke="#ddd" stroke-width="1.2"/>
<text x="577.8" y="2337.3" font-size="13.7" fill="#8a8a8a" text-anchor="middle" font-weight="normal">f(x)</text>
<text x="577.8" y="2361.0" font-size="16.5" fill="#000" text-anchor="middle" font-weight="bold">0.32</text>
<text x="556.0" y="2312.0" font-size="15.5" fill="#ff0d57" text-anchor="end" font-weight="normal">higher</text>
<text x="599.8" y="2312.0" font-size="15.2" fill="#1e88e5" text-anchor="start" font-weight="normal">lower</text>
<path d="M572.5,2301.0 h11.5 M584.0,2301.0 l-3.2,-2.6 M584.0,2301.0 l-3.2,2.6" stroke="#ff0d57" stroke-width="1.6" fill="none"/>
<path d="M572.5,2309.0 h11.5 M572.5,2309.0 l3.2,-2.6 M572.5,2309.0 l3.2,2.6" stroke="#1e88e5" stroke-width="1.6" fill="none"/>
<path d="M192.9,2438.2 L230.2,2438.2 L113.3,2464.0 L113.3,2500.0 L5.3,2500.0 L5.3,2464.0 Z" fill="url(#gr)"/>
<path d="M227.8,2438.2 L276.8,2438.2 L276.8,2464.0 L276.8,2500.0 L113.3,2500.0 L113.3,2464.0 Z" fill="url(#gr)"/>
<path d="M276.8,2438.2 L577.8,2438.2 L577.8,2464.0 L577.8,2500.0 L276.8,2500.0 L276.8,2464.0 Z" fill="url(#gr)"/>
<path d="M577.8,2438.2 L823.0,2438.2 L823.0,2464.0 L823.0,2500.0 L577.8,2500.0 L577.8,2464.0 Z" fill="url(#gb)"/>
<path d="M823.0,2438.2 L993.0,2438.2 L993.0,2464.0 L993.0,2500.0 L823.0,2500.0 L823.0,2464.0 Z" fill="url(#gb)"/>
<path d="M993.0,2438.2 L1122.0,2438.2 L1122.0,2464.0 L1122.0,2500.0 L993.0,2500.0 L993.0,2464.0 Z" fill="url(#gb)"/>
<path d="M1122.0,2438.2 L1183.0,2438.2 L1300.0,2464.0 L1300.0,2500.0 L1122.0,2500.0 L1122.0,2464.0 Z" fill="url(#gb)"/>
<path d="M192.9,2438.2 L5.3,2464.0 L5.3,2500.0" stroke="#ff0d57" stroke-width="1.1" fill="none" opacity="0.6"/>
<path d="M227.8,2438.2 L113.3,2464.0 L113.3,2500.0" stroke="#ff0d57" stroke-width="1.1" fill="none" opacity="0.6"/>
<path d="M276.8,2438.2 L276.8,2464.0 L276.8,2500.0" stroke="#ff0d57" stroke-width="1.1" fill="none" opacity="0.6"/>
<path d="M823.0,2438.2 L823.0,2464.0 L823.0,2500.0" stroke="#1e88e5" stroke-width="1.1" fill="none" opacity="0.6"/>
<path d="M993.0,2438.2 L993.0,2464.0 L993.0,2500.0" stroke="#1e88e5" stroke-width="1.1" fill="none" opacity="0.6"/>
<path d="M1122.0,2438.2 L1122.0,2464.0 L1122.0,2500.0" stroke="#1e88e5" stroke-width="1.1" fill="none" opacity="0.6"/>
<path d="M1183.0,2438.2 L1300.0,2464.0 L1300.0,2500.0" stroke="#1e88e5" stroke-width="1.1" fill="none" opacity="0.6"/>
<path d="M191.7,2407.8 L230.2,2407.8 L236.0,2423.0 L230.2,2438.2 L191.7,2438.2 L197.5,2423.0Z" fill="#ff0d57"/>
<path d="M230.2,2407.8 L276.8,2407.8 L282.6,2423.0 L276.8,2438.2 L230.2,2438.2 L236.0,2423.0Z" fill="#ff0d57"/>
<path d="M276.8,2407.8 L576.8,2407.8 L576.8,2423.0 L576.8,2438.2 L276.8,2438.2 L282.6,2423.0Z" fill="#ff0d57"/>
<path d="M578.8,2407.8 L823.4,2407.8 L817.6,2423.0 L823.4,2438.2 L578.8,2438.2 L578.8,2423.0Z" fill="#1e88e5"/>
<path d="M823.4,2407.8 L993.0,2407.8 L987.2,2423.0 L993.0,2438.2 L823.4,2438.2 L817.6,2423.0Z" fill="#1e88e5"/>
<path d="M993.0,2407.8 L1121.9,2407.8 L1116.1,2423.0 L1121.9,2438.2 L993.0,2438.2 L987.2,2423.0Z" fill="#1e88e5"/>
<path d="M1121.9,2407.8 L1179.7,2407.8 L1173.9,2423.0 L1179.7,2438.2 L1121.9,2438.2 L1116.1,2423.0Z" fill="#1e88e5"/>
<path d="M1179.7,2407.8 L1219.5,2407.8 L1213.7,2423.0 L1219.5,2438.2 L1179.7,2438.2 L1173.9,2423.0Z" fill="#1e88e5"/>
<path d="M1219.5,2407.8 L1247.7,2407.8 L1241.9,2423.0 L1247.7,2438.2 L1219.5,2438.2 L1213.7,2423.0Z" fill="#1e88e5"/>
<path d="M1247.7,2407.8 L1271.3,2407.8 L1265.5,2423.0 L1271.3,2438.2 L1247.7,2438.2 L1241.9,2423.0Z" fill="#1e88e5"/>
<path d="M191.7,2407.8 L197.5,2423.0 L191.7,2438.2" stroke="#ffc3d5" stroke-width="3" fill="none"/>
<path d="M230.2,2407.8 L236.0,2423.0 L230.2,2438.2" stroke="#ffc3d5" stroke-width="3" fill="none"/>
<path d="M276.8,2407.8 L282.6,2423.0 L276.8,2438.2" stroke="#ffc3d5" stroke-width="3" fill="none"/>
<path d="M823.4,2407.8 L817.6,2423.0 L823.4,2438.2" stroke="#d1e6fa" stroke-width="3" fill="none"/>
<path d="M993.0,2407.8 L987.2,2423.0 L993.0,2438.2" stroke="#d1e6fa" stroke-width="3" fill="none"/>
<path d="M1121.9,2407.8 L1116.1,2423.0 L1121.9,2438.2" stroke="#d1e6fa" stroke-width="3" fill="none"/>
<path d="M1179.7,2407.8 L1173.9,2423.0 L1179.7,2438.2" stroke="#d1e6fa" stroke-width="3" fill="none"/>
<path d="M1219.5,2407.8 L1213.7,2423.0 L1219.5,2438.2" stroke="#d1e6fa" stroke-width="3" fill="none"/>
<path d="M1247.7,2407.8 L1241.9,2423.0 L1247.7,2438.2" stroke="#d1e6fa" stroke-width="3" fill="none"/>
<path d="M1271.3,2407.8 L1265.5,2423.0 L1271.3,2438.2" stroke="#d1e6fa" stroke-width="3" fill="none"/>
<line x1="577.8" y1="2406.8" x2="577.8" y2="2439.2" stroke="#fff" stroke-width="2.4"/>
<line x1="577.8" y1="2438.2" x2="577.8" y2="2500.0" stroke="#ff0d57" stroke-width="1.1" opacity="0.6"/>
<text x="91.6" y="2485.6" font-size="14.35" fill="#ff0d57" text-anchor="end" font-weight="normal">INR = 1.09</text>
<text x="254.3" y="2485.6" font-size="14.35" fill="#ff0d57" text-anchor="end" font-weight="normal">Blood glucose = 6.27</text>
<text x="556.0" y="2485.6" font-size="14.35" fill="#ff0d57" text-anchor="end" font-weight="normal">NLR = 8.704</text>
<text x="598.7" y="2485.6" font-size="14.35" fill="#1e88e5" text-anchor="start" font-weight="normal">Albumin = 41.9</text>
<text x="844.5" y="2485.6" font-size="14.35" fill="#1e88e5" text-anchor="start" font-weight="normal">MCHC = 347.0</text>
<text x="1014.7" y="2485.6" font-size="14.35" fill="#1e88e5" text-anchor="start" font-weight="normal">Age = 58.0</text>
<text x="1144.0" y="2485.6" font-size="14.35" fill="#1e88e5" text-anchor="start" font-weight="normal">Serum creatinine = 73.8</text>
</svg>
<div class="pl" style="left:12px;top:-5px;font-size:82px">A</div>
<div class="pl" style="left:12px;top:970px;font-size:81px">B</div>
<div class="pl" style="left:9px;top:1850px;font-size:88px">C</div>
<div class="pl" style="left:20px;top:2205px;font-size:87px">D</div>
</body></html>
